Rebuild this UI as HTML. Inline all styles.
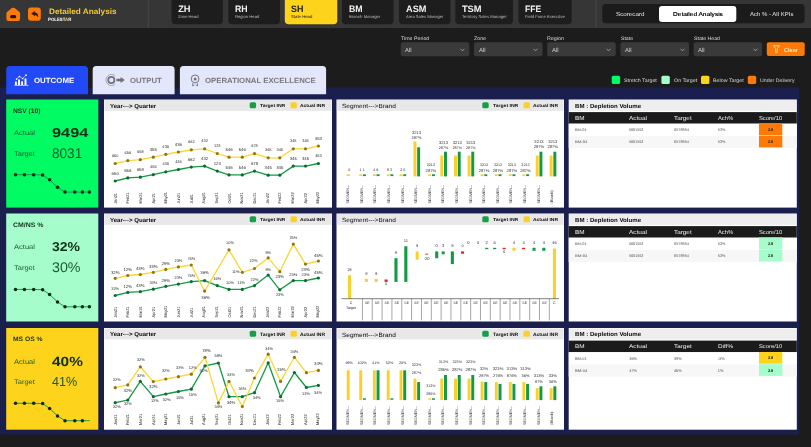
<!DOCTYPE html>
<html lang="en"><head><meta charset="utf-8"><title>Detailed Analysis</title>
<style>
html,body{margin:0;padding:0;background:#1c1c1c;}
body{text-rendering:geometricPrecision;width:811px;height:447px;overflow:hidden;position:relative;font-family:"Liberation Sans",sans-serif;}
#app{position:absolute;left:0;top:0;width:811px;height:447px;overflow:hidden;background:#1c1c1c;}
#app div,#app span,#app svg{position:absolute;}
.t{white-space:nowrap;line-height:1;display:block;transform-origin:0 50%;}
svg{overflow:visible;}
svg text{font-family:"Liberation Sans",sans-serif;}
</style></head><body><div id="app">
<svg style="left:-1px;top:-1px" width="813" height="30" viewBox="-1 -1 813 30"><rect x="0" y="0" width="811" height="28" fill="#363637"/></svg>
<svg style="left:146px;top:-1px" width="5" height="30" viewBox="146 -1 5 30"><rect x="147.6" y="0" width="1.6" height="28" fill="#424243"/></svg>
<svg style="left:594px;top:-1px" width="4" height="30" viewBox="594 -1 4 30"><rect x="595.2" y="0" width="1.6" height="28" fill="#424243"/></svg>
<svg style="left:0px;top:0px" width="50" height="28" viewBox="0 0 50 28">
<path d="M12.8 9.6 L13.7 9.6 L18.2 13.5 L18.2 19 L8.3 19 L8.3 13.5 Z" fill="#fd7a08" stroke="#fd7a08" stroke-width="3.8" stroke-linejoin="round"/>
<rect x="10.1" y="15.1" width="6.1" height="3.1" rx="1.5" fill="#2a1400"/>
<rect x="28" y="7.4" width="12.8" height="13.3" rx="2.9" fill="#fd7a08"/>
<path d="M31.6 13.6 L34.6 11.5 L34.6 12.6 Q38.2 12.9 38 17 Q36.7 14.8 34.6 14.7 L34.6 15.8 Z" fill="#2a1400" stroke="#2a1400" stroke-width="0.4" stroke-linejoin="round"/>
</svg>
<span class="t" style="left:48.9px;top:8px;font-size:7.9px;color:#f2c935;font-weight:700;transform:scaleX(1.038);">Detailed Analysis</span>
<span class="t" style="left:48.3px;top:18px;font-size:4.6px;font-weight:700;color:#fff;transform:scaleX(0.943)">POLEST<span style="position:static;color:#fdd31c">A</span>R</span>
<svg style="left:170px;top:-5px" width="54" height="31" viewBox="170 -5 54 31"><rect x="171.6" y="-4" width="51.3" height="28.2" rx="4" fill="#1d1d1d"/></svg>
<span class="t" style="left:178.2px;top:5px;font-size:9.3px;color:#f2f2f2;font-weight:700;">ZH</span>
<span class="t" style="left:178.2px;top:15px;font-size:4.2px;color:#b9b9b9;transform:scaleX(0.991);">Zone Head</span>
<svg style="left:227px;top:-5px" width="54" height="31" viewBox="227 -5 54 31"><rect x="228.3" y="-4" width="51.7" height="28.2" rx="4" fill="#1d1d1d"/></svg>
<span class="t" style="left:234.9px;top:5px;font-size:9.3px;color:#f2f2f2;font-weight:700;transform:scaleX(0.938);">RH</span>
<span class="t" style="left:234.9px;top:15px;font-size:4.2px;color:#b9b9b9;">Region Head</span>
<svg style="left:283px;top:-5px" width="56" height="31" viewBox="283 -5 56 31"><rect x="284.8" y="-4" width="52.5" height="28.2" rx="4" fill="#fdd31c"/></svg>
<span class="t" style="left:291.4px;top:5px;font-size:9.3px;color:#1a1a1a;font-weight:700;transform:scaleX(0.960);">SH</span>
<span class="t" style="left:291.4px;top:15px;font-size:4.2px;color:#1a1a1a;transform:scaleX(1.018);">State Head</span>
<svg style="left:341px;top:-5px" width="54" height="31" viewBox="341 -5 54 31"><rect x="342" y="-4" width="51.5" height="28.2" rx="4" fill="#1d1d1d"/></svg>
<span class="t" style="left:348.6px;top:5px;font-size:9.3px;color:#f2f2f2;font-weight:700;transform:scaleX(0.940);">BM</span>
<span class="t" style="left:348.6px;top:15px;font-size:4.2px;color:#b9b9b9;transform:scaleX(1.014);">Branch Manager</span>
<svg style="left:398px;top:-5px" width="54" height="31" viewBox="398 -5 54 31"><rect x="399" y="-4" width="51.5" height="28.2" rx="4" fill="#1d1d1d"/></svg>
<span class="t" style="left:405.6px;top:5px;font-size:9.3px;color:#f2f2f2;font-weight:700;transform:scaleX(0.987);">ASM</span>
<span class="t" style="left:405.6px;top:15px;font-size:4.2px;color:#b9b9b9;transform:scaleX(0.979);">Area Sales Manager</span>
<svg style="left:454px;top:-5px" width="60" height="31" viewBox="454 -5 60 31"><rect x="455.3" y="-4" width="57.7" height="28.2" rx="4" fill="#1d1d1d"/></svg>
<span class="t" style="left:461.9px;top:5px;font-size:9.3px;color:#f2f2f2;font-weight:700;">TSM</span>
<span class="t" style="left:461.9px;top:15px;font-size:4.2px;color:#b9b9b9;transform:scaleX(1.009);">Territory Sales Manager</span>
<svg style="left:517px;top:-5px" width="56" height="31" viewBox="517 -5 56 31"><rect x="518.5" y="-4" width="53.2" height="28.2" rx="4" fill="#1d1d1d"/></svg>
<span class="t" style="left:525.1px;top:5px;font-size:9.3px;color:#f2f2f2;font-weight:700;transform:scaleX(0.922);">FFE</span>
<span class="t" style="left:525.1px;top:15px;font-size:4.2px;color:#b9b9b9;transform:scaleX(0.991);">Field Force Executive</span>
<svg style="left:601px;top:3px" width="205" height="22" viewBox="601 3 205 22"><rect x="602.3" y="4" width="202.2" height="19.3" rx="3.5" fill="#1b1b1b"/></svg>
<svg style="left:658px;top:5px" width="80" height="18" viewBox="658 5 80 18"><rect x="659" y="6" width="77.3" height="16" rx="3" fill="#ffffff"/></svg>
<span class="t" style="left:616.35px;top:13px;font-size:5.7px;color:#e6e6e6;transform:scaleX(1.097);">Scorecard</span>
<span class="t" style="left:672.7px;top:13px;font-size:5.7px;color:#1a1a1a;transform:scaleX(1.152);text-shadow:0 0 0.4px #1a1a1a;">Detailed Analysis</span>
<span class="t" style="left:750.05px;top:13px;font-size:5.7px;color:#e6e6e6;transform:scaleX(1.056);">Ach % - All KPIs</span>
<span class="t" style="left:400.8px;top:37px;font-size:5px;color:#d9d9d9;transform:scaleX(1.057);">Time Period</span>
<svg style="left:399px;top:41px" width="72" height="17" viewBox="399 41 72 17"><rect x="400.8" y="42.3" width="68.5" height="14" rx="2" fill="#3a3a3a"/></svg>
<span class="t" style="left:405.4px;top:48px;font-size:6px;color:#d4d4d4;transform:scaleX(0.990);">All</span>
<svg style="left:460px;top:47.6px" width="5" height="4" viewBox="0 0 5 4"><path d="M0.6 0.8 L2.5 2.8 L4.4 0.8" fill="none" stroke="#bdbdbd" stroke-width="0.7"/></svg>
<span class="t" style="left:474px;top:37px;font-size:5px;color:#d9d9d9;transform:scaleX(1.053);">Zone</span>
<svg style="left:473px;top:41px" width="71" height="17" viewBox="473 41 71 17"><rect x="474" y="42.3" width="68.5" height="14" rx="2" fill="#3a3a3a"/></svg>
<span class="t" style="left:478.6px;top:48px;font-size:6px;color:#d4d4d4;transform:scaleX(0.990);">All</span>
<svg style="left:533.2px;top:47.6px" width="5" height="4" viewBox="0 0 5 4"><path d="M0.6 0.8 L2.5 2.8 L4.4 0.8" fill="none" stroke="#bdbdbd" stroke-width="0.7"/></svg>
<span class="t" style="left:547.2px;top:37px;font-size:5px;color:#d9d9d9;transform:scaleX(1.073);">Region</span>
<svg style="left:546px;top:41px" width="71" height="17" viewBox="546 41 71 17"><rect x="547.2" y="42.3" width="68.5" height="14" rx="2" fill="#3a3a3a"/></svg>
<span class="t" style="left:551.8px;top:48px;font-size:6px;color:#d4d4d4;transform:scaleX(0.990);">All</span>
<svg style="left:606.4px;top:47.6px" width="5" height="4" viewBox="0 0 5 4"><path d="M0.6 0.8 L2.5 2.8 L4.4 0.8" fill="none" stroke="#bdbdbd" stroke-width="0.7"/></svg>
<span class="t" style="left:620.5px;top:37px;font-size:5px;color:#d9d9d9;transform:scaleX(1.028);">State</span>
<svg style="left:619px;top:41px" width="71" height="17" viewBox="619 41 71 17"><rect x="620.5" y="42.3" width="68.5" height="14" rx="2" fill="#3a3a3a"/></svg>
<span class="t" style="left:625.1px;top:48px;font-size:6px;color:#d4d4d4;transform:scaleX(0.990);">All</span>
<svg style="left:679.7px;top:47.6px" width="5" height="4" viewBox="0 0 5 4"><path d="M0.6 0.8 L2.5 2.8 L4.4 0.8" fill="none" stroke="#bdbdbd" stroke-width="0.7"/></svg>
<span class="t" style="left:693.6px;top:37px;font-size:5px;color:#d9d9d9;transform:scaleX(1.039);">State Head</span>
<svg style="left:692px;top:41px" width="72" height="17" viewBox="692 41 72 17"><rect x="693.6" y="42.3" width="68.5" height="14" rx="2" fill="#3a3a3a"/></svg>
<span class="t" style="left:698.2px;top:48px;font-size:6px;color:#d4d4d4;transform:scaleX(0.990);">All</span>
<svg style="left:752.8px;top:47.6px" width="5" height="4" viewBox="0 0 5 4"><path d="M0.6 0.8 L2.5 2.8 L4.4 0.8" fill="none" stroke="#bdbdbd" stroke-width="0.7"/></svg>
<svg style="left:765px;top:41px" width="41" height="16" viewBox="765 41 41 16"><rect x="766.8" y="42.3" width="37.9" height="13.7" rx="2" fill="#fd7a08"/></svg>
<svg style="left:0;top:0" width="811" height="60" viewBox="0 0 811 60"><path d="M773.5 45.8 H779.6 L777.3 48.7 V52.3 L775.8 52.9 V48.7 Z" fill="none" stroke="#ffe2a6" stroke-width="0.85" stroke-linejoin="round"/></svg>
<span class="t" style="left:783.8px;top:49px;font-size:5.8px;color:#ffe9c4;font-weight:700;transform:scaleX(0.965);">Clear</span>
<svg style="left:-2px;top:86px" width="803" height="350" viewBox="-2 86 803 350"><path d="M-0.6 87.6 H799.1 V431.9 A2.5 2.5 0 0 1 796.6 434.4 H2.4 A3 3 0 0 1 -0.6 431.4 V87.6 Z" fill="#1b1f4d"/></svg>
<svg style="left:5px;top:64px" width="84" height="32" viewBox="5 64 84 32"><path d="M9.7 65.9 H84.5 A3.5 3.5 0 0 1 88 69.4 V94.2 H6.2 V69.4 A3.5 3.5 0 0 1 9.7 65.9 Z" fill="#2149f5"/></svg>
<svg style="left:91px;top:64px" width="85" height="32" viewBox="91 64 85 32"><path d="M96.2 65.9 H171.1 A3.5 3.5 0 0 1 174.6 69.4 V94.2 H92.7 V69.4 A3.5 3.5 0 0 1 96.2 65.9 Z" fill="#e3e7fb"/></svg>
<svg style="left:178px;top:64px" width="150" height="32" viewBox="178 64 150 32"><path d="M183.4 65.9 H322.6 A3.5 3.5 0 0 1 326.1 69.4 V94.2 H179.9 V69.4 A3.5 3.5 0 0 1 183.4 65.9 Z" fill="#e3e7fb"/></svg>
<svg style="left:0;top:0" width="40" height="95" viewBox="0 0 40 95"><path d="M14.4 85.4 H28.5" stroke="#fff" stroke-width="0.7"/><path d="M15.9 85 V81.6 M19 85 V79.6 M22.1 85 V81.2 M25.5 85 V78.4" stroke="#fff" stroke-width="1.9"/><path d="M16.6 79.1 L19.4 76.5 L22.7 78.5 L26 75.2" fill="none" stroke="#fff" stroke-width="0.55"/><circle cx="16.6" cy="79.1" r="0.85" fill="#fff"/><circle cx="19.4" cy="76.5" r="0.85" fill="#fff"/><circle cx="22.7" cy="78.5" r="0.85" fill="#fff"/><circle cx="26" cy="75.2" r="0.85" fill="#fff"/></svg>
<span class="t" style="left:33.8px;top:77px;font-size:7.6px;color:#ffffff;font-weight:700;transform:scaleX(1.035);">OUTCOME</span>
<svg style="left:0;top:0" width="130" height="95" viewBox="0 0 130 95"><path d="M115.6 76.2 A5.6 5.6 0 1 0 115.6 83.8" fill="none" stroke="#7d7e86" stroke-width="0.6"/><circle cx="111.3" cy="80" r="3.1" fill="none" stroke="#6e6f77" stroke-width="1.7"/><path d="M116.4 78.7 H120.6 V77 L124.8 80 L120.6 83 V81.3 H116.4 Z" fill="#6e6f77"/></svg>
<span class="t" style="left:130px;top:77px;font-size:7.6px;color:#76777e;font-weight:700;transform:scaleX(1.018);">OUTPUT</span>
<svg style="left:0;top:0" width="210" height="95" viewBox="0 0 210 95"><circle cx="195.1" cy="78.9" r="3.9" fill="none" stroke="#74757d" stroke-width="1"/><circle cx="195.1" cy="78.9" r="1.5" fill="#74757d"/><path d="M192.9 83.2 L192.5 85.8 L194.4 85 M197.3 83.2 L197.7 85.8 L195.8 85" fill="none" stroke="#74757d" stroke-width="0.9"/></svg>
<span class="t" style="left:204.8px;top:77px;font-size:7.6px;color:#76777e;font-weight:700;transform:scaleX(1.027);">OPERATIONAL EXCELLENCE</span>
<svg style="left:610px;top:74px" width="12" height="12" viewBox="610 74 12 12"><rect x="611.7" y="75.7" width="8.4" height="8.4" rx="1.6" fill="#00fb62"/></svg>
<span class="t" style="left:623.9px;top:79px;font-size:5px;color:#d8d8d8;transform:scaleX(1.057);">Stretch Target</span>
<svg style="left:660px;top:74px" width="11" height="12" viewBox="660 74 11 12"><rect x="661.4" y="75.7" width="8.4" height="8.4" rx="1.6" fill="#a4fdcb"/></svg>
<span class="t" style="left:673.6px;top:79px;font-size:5px;color:#d8d8d8;transform:scaleX(1.061);">On Target</span>
<svg style="left:700px;top:74px" width="11" height="12" viewBox="700 74 11 12"><rect x="701" y="75.7" width="8.4" height="8.4" rx="1.6" fill="#fdd31c"/></svg>
<span class="t" style="left:712.9px;top:79px;font-size:5px;color:#d8d8d8;transform:scaleX(1.065);">Below Target</span>
<svg style="left:746px;top:74px" width="12" height="12" viewBox="746 74 12 12"><rect x="747.8" y="75.7" width="8.4" height="8.4" rx="1.6" fill="#fd7a08"/></svg>
<span class="t" style="left:760px;top:79px;font-size:5px;color:#d8d8d8;transform:scaleX(1.046);">Under Delivery</span>
<svg style="left:5px;top:98px" width="95" height="111" viewBox="5 98 95 111"><rect x="6.2" y="99.5" width="92.1" height="108.1" fill="#00fb62"/></svg>
<span class="t" style="left:13.2px;top:109px;font-size:6.4px;color:#14301c;font-weight:700;transform:scaleX(1.041);">NSV (10)</span>
<span class="t" style="left:14.3px;top:131px;font-size:6.6px;color:#1f5a33;transform:scaleX(1.145);">Actual</span>
<span class="t" style="left:51.8px;top:127px;font-size:12.9px;color:#0f3018;font-weight:700;transform:scaleX(1.268);">9494</span>
<span class="t" style="left:14.3px;top:152px;font-size:6.8px;color:#1f5a33;transform:scaleX(1.101);">Target</span>
<span class="t" style="left:51.8px;top:146px;font-size:14.1px;color:#1c5a2e;transform:scaleX(0.963);">8031</span>
<svg style="left:5.9px;top:99.5px" width="92.5" height="108.1" viewBox="5.9 99.5 92.5 108.1">
<polyline points="15.4,174.2 24.3,174.2 33.6,174.2 42.5,174.5 49.5,179.3 57.4,186.8 64.9,191.6 74.7,191.6 82.3,191.6 89.3,191.6" fill="none" stroke="#149a44" stroke-width="0.95" stroke-linejoin="round" stroke-linecap="round"/>
<circle cx="15.4" cy="174.2" r="1.75" fill="#0c2a12"/>
<circle cx="24.3" cy="174.2" r="1.75" fill="#0c2a12"/>
<circle cx="33.6" cy="174.2" r="1.75" fill="#0c2a12"/>
<circle cx="42.5" cy="174.5" r="1.75" fill="#0c2a12"/>
<circle cx="49.5" cy="179.3" r="1.75" fill="#0c2a12"/>
<circle cx="57.4" cy="186.8" r="1.75" fill="#0c2a12"/>
<circle cx="64.9" cy="191.6" r="1.75" fill="#0c2a12"/>
<circle cx="74.7" cy="191.6" r="1.75" fill="#0c2a12"/>
<circle cx="82.3" cy="191.6" r="1.75" fill="#0c2a12"/>
<circle cx="89.3" cy="191.6" r="1.75" fill="#0c2a12"/>
</svg>
<svg style="left:103px;top:98px" width="230" height="111" viewBox="103 98 230 111"><rect x="104" y="99.5" width="228" height="108.1" fill="#ffffff"/></svg>
<svg style="left:103px;top:99px" width="230" height="13" viewBox="103 99 230 13"><rect x="104.4" y="100" width="227.2" height="10.9" fill="#e8e8e8"/></svg>
<span class="t" style="left:109.5px;top:105px;font-size:5.9px;color:#0a0a0a;font-weight:700;transform:scaleX(1.034);">Year---&gt; Quarter</span>
<svg style="left:248px;top:101px" width="10" height="9" viewBox="248 101 10 9"><rect x="249.7" y="102.2" width="6.4" height="6.1" rx="1.6" fill="#15a048"/></svg>
<span class="t" style="left:259.6px;top:104px;font-size:4.5px;color:#0a0a0a;font-weight:700;transform:scaleX(1.128);">Target INR</span>
<svg style="left:289px;top:101px" width="9" height="9" viewBox="289 101 9 9"><rect x="290.5" y="102.2" width="6.4" height="6.1" rx="1.6" fill="#fbd02b"/></svg>
<span class="t" style="left:300.2px;top:104px;font-size:4.5px;color:#0a0a0a;font-weight:700;transform:scaleX(1.099);">Actual INR</span>
<svg style="left:104px;top:99.5px" width="228" height="108.1" viewBox="104 99.5 228 108.1">
<polyline points="115.2,180.5 127.8,177.4 140.3,176.7 153.3,174.2 165.8,171.3 178.4,169 191.3,166.6 204.6,165.6 217.3,170.6 229,174.4 242.3,174.4 254.5,170.6 268.2,174.7 279.8,174.7 293.3,165.6 305.5,165.6 318.4,163" fill="none" stroke="#149944" stroke-width="1.3" stroke-linejoin="round" stroke-linecap="round"/>
<polyline points="115.2,163 127.8,160.1 140.3,159.2 153.3,156.7 165.8,153.8 178.4,151.5 191.3,149.3 204.6,148.3 217.3,153 229,156.7 242.3,156.7 254.5,153.1 268.2,157.3 279.8,157.3 293.3,148.3 305.5,148.3 318.4,145.5" fill="none" stroke="#fcd531" stroke-width="1.3" stroke-linejoin="round" stroke-linecap="round"/>
<circle cx="115.2" cy="180.5" r="1.6" fill="#0b6b33"/>
<circle cx="115.2" cy="163" r="1.6" fill="#8f7410"/>
<circle cx="127.8" cy="177.4" r="1.6" fill="#0b6b33"/>
<circle cx="127.8" cy="160.1" r="1.6" fill="#8f7410"/>
<circle cx="140.3" cy="176.7" r="1.6" fill="#0b6b33"/>
<circle cx="140.3" cy="159.2" r="1.6" fill="#8f7410"/>
<circle cx="153.3" cy="174.2" r="1.6" fill="#0b6b33"/>
<circle cx="153.3" cy="156.7" r="1.6" fill="#8f7410"/>
<circle cx="165.8" cy="171.3" r="1.6" fill="#0b6b33"/>
<circle cx="165.8" cy="153.8" r="1.6" fill="#8f7410"/>
<circle cx="178.4" cy="169" r="1.6" fill="#0b6b33"/>
<circle cx="178.4" cy="151.5" r="1.6" fill="#8f7410"/>
<circle cx="191.3" cy="166.6" r="1.6" fill="#0b6b33"/>
<circle cx="191.3" cy="149.3" r="1.6" fill="#8f7410"/>
<circle cx="204.6" cy="165.6" r="1.6" fill="#0b6b33"/>
<circle cx="204.6" cy="148.3" r="1.6" fill="#8f7410"/>
<circle cx="217.3" cy="170.6" r="1.6" fill="#0b6b33"/>
<circle cx="217.3" cy="153" r="1.6" fill="#8f7410"/>
<circle cx="229" cy="174.4" r="1.6" fill="#0b6b33"/>
<circle cx="229" cy="156.7" r="1.6" fill="#8f7410"/>
<circle cx="242.3" cy="174.4" r="1.6" fill="#0b6b33"/>
<circle cx="242.3" cy="156.7" r="1.6" fill="#8f7410"/>
<circle cx="254.5" cy="170.6" r="1.6" fill="#0b6b33"/>
<circle cx="254.5" cy="153.1" r="1.6" fill="#8f7410"/>
<circle cx="268.2" cy="174.7" r="1.6" fill="#0b6b33"/>
<circle cx="268.2" cy="157.3" r="1.6" fill="#8f7410"/>
<circle cx="279.8" cy="174.7" r="1.6" fill="#0b6b33"/>
<circle cx="279.8" cy="157.3" r="1.6" fill="#8f7410"/>
<circle cx="293.3" cy="165.6" r="1.6" fill="#0b6b33"/>
<circle cx="293.3" cy="148.3" r="1.6" fill="#8f7410"/>
<circle cx="305.5" cy="165.6" r="1.6" fill="#0b6b33"/>
<circle cx="305.5" cy="148.3" r="1.6" fill="#8f7410"/>
<circle cx="318.4" cy="163" r="1.6" fill="#0b6b33"/>
<circle cx="318.4" cy="145.5" r="1.6" fill="#8f7410"/>
<g>
<text x="115.2" y="157" font-size="3.9" fill="#2e2e2e" text-anchor="middle">650</text>
<text x="115.2" y="175" font-size="4.3" fill="#2e2e2e" text-anchor="middle">650</text>
<text transform="translate(115.2 203.1) rotate(-90)" x="0" y="1.5" font-size="4.2" fill="#262626" text-anchor="start" textLength="10.6" lengthAdjust="spacingAndGlyphs">Jan21</text>
<text x="127.8" y="154" font-size="3.9" fill="#2e2e2e" text-anchor="middle">656</text>
<text x="127.8" y="172" font-size="4.3" fill="#2e2e2e" text-anchor="middle">656</text>
<text transform="translate(127.86 203.1) rotate(-90)" x="0" y="1.5" font-size="4.2" fill="#262626" text-anchor="start" textLength="10.9" lengthAdjust="spacingAndGlyphs">Feb21</text>
<text x="140.3" y="153" font-size="3.9" fill="#2e2e2e" text-anchor="middle">658</text>
<text x="140.3" y="171" font-size="4.3" fill="#2e2e2e" text-anchor="middle">658</text>
<text transform="translate(140.52 203.1) rotate(-90)" x="0" y="1.5" font-size="4.2" fill="#262626" text-anchor="start" textLength="11.2" lengthAdjust="spacingAndGlyphs">Mar21</text>
<text x="153.3" y="151" font-size="4.3" fill="#2e2e2e" text-anchor="middle">455</text>
<text x="153.3" y="168" font-size="3.9" fill="#2e2e2e" text-anchor="middle">455</text>
<text transform="translate(153.18 203.1) rotate(-90)" x="0" y="1.5" font-size="4.2" fill="#262626" text-anchor="start" textLength="10.6" lengthAdjust="spacingAndGlyphs">Apr21</text>
<text x="165.8" y="148" font-size="4.2" fill="#2e2e2e" text-anchor="middle">435</text>
<text x="165.8" y="165" font-size="3.9" fill="#2e2e2e" text-anchor="middle">435</text>
<text transform="translate(165.84 203.1) rotate(-90)" x="0" y="1.5" font-size="4.2" fill="#262626" text-anchor="start" textLength="11.6" lengthAdjust="spacingAndGlyphs">May21</text>
<text x="178.4" y="146" font-size="4.3" fill="#2e2e2e" text-anchor="middle">436</text>
<text x="178.4" y="163" font-size="3.9" fill="#2e2e2e" text-anchor="middle">436</text>
<text transform="translate(178.5 203.1) rotate(-90)" x="0" y="1.5" font-size="4.2" fill="#262626" text-anchor="start" textLength="10.8" lengthAdjust="spacingAndGlyphs">Jun21</text>
<text x="191.3" y="143" font-size="3.9" fill="#2e2e2e" text-anchor="middle">662</text>
<text x="191.3" y="161" font-size="4.3" fill="#2e2e2e" text-anchor="middle">662</text>
<text transform="translate(191.16 203.1) rotate(-90)" x="0" y="1.5" font-size="4.2" fill="#262626" text-anchor="start" textLength="9.6" lengthAdjust="spacingAndGlyphs">Jul21</text>
<text x="204.6" y="142" font-size="3.9" fill="#2e2e2e" text-anchor="middle">432</text>
<text x="204.6" y="160" font-size="4.3" fill="#2e2e2e" text-anchor="middle">432</text>
<text transform="translate(203.82 203.1) rotate(-90)" x="0" y="1.5" font-size="4.2" fill="#262626" text-anchor="start" textLength="11.4" lengthAdjust="spacingAndGlyphs">Aug21</text>
<text x="217.3" y="147" font-size="3.9" fill="#2e2e2e" text-anchor="middle">123</text>
<text x="217.3" y="165" font-size="4.3" fill="#2e2e2e" text-anchor="middle">123</text>
<text transform="translate(216.48 203.1) rotate(-90)" x="0" y="1.5" font-size="4.2" fill="#262626" text-anchor="start" textLength="11.2" lengthAdjust="spacingAndGlyphs">Sep21</text>
<text x="229" y="151" font-size="4.3" fill="#2e2e2e" text-anchor="middle">546</text>
<text x="229" y="169" font-size="4.3" fill="#2e2e2e" text-anchor="middle">546</text>
<text transform="translate(229.14 203.1) rotate(-90)" x="0" y="1.5" font-size="4.2" fill="#262626" text-anchor="start" textLength="10.6" lengthAdjust="spacingAndGlyphs">Oct21</text>
<text x="242.3" y="151" font-size="4.3" fill="#2e2e2e" text-anchor="middle">546</text>
<text x="242.3" y="169" font-size="4.3" fill="#2e2e2e" text-anchor="middle">546</text>
<text transform="translate(241.8 203.1) rotate(-90)" x="0" y="1.5" font-size="4.2" fill="#262626" text-anchor="start" textLength="11.2" lengthAdjust="spacingAndGlyphs">Nov21</text>
<text x="254.5" y="147" font-size="3.9" fill="#2e2e2e" text-anchor="middle">678</text>
<text x="254.5" y="165" font-size="4.3" fill="#2e2e2e" text-anchor="middle">678</text>
<text transform="translate(254.46 203.1) rotate(-90)" x="0" y="1.5" font-size="4.2" fill="#262626" text-anchor="start" textLength="11" lengthAdjust="spacingAndGlyphs">Dec21</text>
<text x="268.2" y="151" font-size="3.9" fill="#2e2e2e" text-anchor="middle">345</text>
<text x="268.2" y="169" font-size="4.3" fill="#2e2e2e" text-anchor="middle">345</text>
<text transform="translate(267.12 203.1) rotate(-90)" x="0" y="1.5" font-size="4.2" fill="#262626" text-anchor="start" textLength="10.6" lengthAdjust="spacingAndGlyphs">Jan22</text>
<text x="279.8" y="151" font-size="3.9" fill="#2e2e2e" text-anchor="middle">345</text>
<text x="279.8" y="169" font-size="4.3" fill="#2e2e2e" text-anchor="middle">345</text>
<text transform="translate(279.78 203.1) rotate(-90)" x="0" y="1.5" font-size="4.2" fill="#262626" text-anchor="start" textLength="10.9" lengthAdjust="spacingAndGlyphs">Feb22</text>
<text x="293.3" y="142" font-size="3.9" fill="#2e2e2e" text-anchor="middle">345</text>
<text x="293.3" y="160" font-size="4.3" fill="#2e2e2e" text-anchor="middle">345</text>
<text transform="translate(292.44 203.1) rotate(-90)" x="0" y="1.5" font-size="4.2" fill="#262626" text-anchor="start" textLength="11.2" lengthAdjust="spacingAndGlyphs">Mar22</text>
<text x="305.5" y="142" font-size="3.9" fill="#2e2e2e" text-anchor="middle">345</text>
<text x="305.5" y="160" font-size="4.3" fill="#2e2e2e" text-anchor="middle">345</text>
<text transform="translate(305.1 203.1) rotate(-90)" x="0" y="1.5" font-size="4.2" fill="#262626" text-anchor="start" textLength="10.6" lengthAdjust="spacingAndGlyphs">Apr22</text>
<text x="318.4" y="140" font-size="4.3" fill="#2e2e2e" text-anchor="middle">453</text>
<text x="318.4" y="157" font-size="3.9" fill="#2e2e2e" text-anchor="middle">453</text>
<text transform="translate(317.76 203.1) rotate(-90)" x="0" y="1.5" font-size="4.2" fill="#262626" text-anchor="start" textLength="11.6" lengthAdjust="spacingAndGlyphs">May22</text>
</g>
</svg>
<svg style="left:335px;top:98px" width="230" height="111" viewBox="335 98 230 111"><rect x="336.5" y="99.5" width="227.5" height="108.1" fill="#ffffff"/></svg>
<svg style="left:335px;top:99px" width="230" height="13" viewBox="335 99 230 13"><rect x="336.9" y="100" width="226.7" height="10.9" fill="#e8e8e8"/></svg>
<span class="t" style="left:342px;top:104px;font-size:6px;color:#0a0a0a;transform:scaleX(1.088);">Segment---&gt;Brand</span>
<svg style="left:481px;top:101px" width="9" height="9" viewBox="481 101 9 9"><rect x="482.3" y="102.2" width="6.4" height="6.1" rx="1.6" fill="#15a048"/></svg>
<span class="t" style="left:492.7px;top:104px;font-size:4.5px;color:#0a0a0a;font-weight:700;transform:scaleX(1.128);">Target INR</span>
<svg style="left:522px;top:101px" width="9" height="9" viewBox="522 101 9 9"><rect x="523.5" y="102.2" width="6.4" height="6.1" rx="1.6" fill="#fbd02b"/></svg>
<span class="t" style="left:532.5px;top:104px;font-size:4.5px;color:#0a0a0a;font-weight:700;transform:scaleX(1.099);">Actual INR</span>
<svg style="left:567px;top:98px" width="231" height="111" viewBox="567 98 231 111"><rect x="568.7" y="99.5" width="228.1" height="108.1" fill="#ffffff"/></svg>
<svg style="left:568px;top:99px" width="230" height="13" viewBox="568 99 230 13"><rect x="569.1" y="100" width="227.3" height="10.9" fill="#eeeeee"/></svg>
<span class="t" style="left:574.9px;top:105px;font-size:5.9px;color:#0a0a0a;font-weight:700;transform:scaleX(1.037);">BM : Depletion Volume</span>
<svg style="left:5px;top:212px" width="95" height="111" viewBox="5 212 95 111"><rect x="6.2" y="213.5" width="92.1" height="108" fill="#a4fdcb"/></svg>
<span class="t" style="left:13.2px;top:223px;font-size:6.4px;color:#14301c;font-weight:700;transform:scaleX(1.086);">CM/NS %</span>
<span class="t" style="left:14.3px;top:245px;font-size:6.6px;color:#1f5a33;transform:scaleX(1.145);">Actual</span>
<span class="t" style="left:51.8px;top:241px;font-size:12.9px;color:#0f3018;font-weight:700;transform:scaleX(1.088);">32%</span>
<span class="t" style="left:14.3px;top:266px;font-size:6.8px;color:#1f5a33;transform:scaleX(1.101);">Target</span>
<span class="t" style="left:51.8px;top:260px;font-size:14.1px;color:#1c5a2e;transform:scaleX(1.010);">30%</span>
<svg style="left:5.9px;top:213.5px" width="92.5" height="108" viewBox="5.9 213.5 92.5 108">
<polyline points="15.4,288.9 24.3,288.9 33.6,288.9 42.5,289.2 49.5,294 57.4,301.5 64.9,306.3 74.7,306.3 82.3,306.3 89.3,306.3" fill="none" stroke="#149a44" stroke-width="0.95" stroke-linejoin="round" stroke-linecap="round"/>
<circle cx="15.4" cy="288.9" r="1.75" fill="#0c2a12"/>
<circle cx="24.3" cy="288.9" r="1.75" fill="#0c2a12"/>
<circle cx="33.6" cy="288.9" r="1.75" fill="#0c2a12"/>
<circle cx="42.5" cy="289.2" r="1.75" fill="#0c2a12"/>
<circle cx="49.5" cy="294" r="1.75" fill="#0c2a12"/>
<circle cx="57.4" cy="301.5" r="1.75" fill="#0c2a12"/>
<circle cx="64.9" cy="306.3" r="1.75" fill="#0c2a12"/>
<circle cx="74.7" cy="306.3" r="1.75" fill="#0c2a12"/>
<circle cx="82.3" cy="306.3" r="1.75" fill="#0c2a12"/>
<circle cx="89.3" cy="306.3" r="1.75" fill="#0c2a12"/>
</svg>
<svg style="left:103px;top:212px" width="230" height="111" viewBox="103 212 230 111"><rect x="104" y="213.5" width="228" height="108" fill="#ffffff"/></svg>
<svg style="left:103px;top:213px" width="230" height="13" viewBox="103 213 230 13"><rect x="104.4" y="214" width="227.2" height="10.9" fill="#e8e8e8"/></svg>
<span class="t" style="left:109.5px;top:219px;font-size:5.9px;color:#0a0a0a;font-weight:700;transform:scaleX(1.034);">Year---&gt; Quarter</span>
<svg style="left:248px;top:215px" width="10" height="9" viewBox="248 215 10 9"><rect x="249.7" y="216.2" width="6.4" height="6.1" rx="1.6" fill="#15a048"/></svg>
<span class="t" style="left:259.6px;top:218px;font-size:4.5px;color:#0a0a0a;font-weight:700;transform:scaleX(1.128);">Target INR</span>
<svg style="left:289px;top:215px" width="9" height="9" viewBox="289 215 9 9"><rect x="290.5" y="216.2" width="6.4" height="6.1" rx="1.6" fill="#fbd02b"/></svg>
<span class="t" style="left:300.2px;top:218px;font-size:4.5px;color:#0a0a0a;font-weight:700;transform:scaleX(1.099);">Actual INR</span>
<svg style="left:104px;top:213.5px" width="228" height="108" viewBox="104 213.5 228 108">
<polyline points="115.2,295 127.8,291.9 140.3,291.2 153.3,288.7 165.8,285.8 178.4,283.6 191.3,281.1 204.6,280.1 217.3,285.1 229,288.9 242.3,288.9 254.5,285.1 268.2,274.6 279.8,289.3 293.3,280.1 305.5,280.1 318.4,277.5" fill="none" stroke="#149944" stroke-width="1.3" stroke-linejoin="round" stroke-linecap="round"/>
<polyline points="115.2,277.8 127.8,275 140.3,274 153.3,271.8 165.8,268.9 178.4,266.4 191.3,264.5 204.6,290.6 229,249.3 242.3,271.8 254.5,268 268.2,257.3 279.8,271.2 293.3,243.6 305.5,263.6 318.4,260.5" fill="none" stroke="#fcd531" stroke-width="1.3" stroke-linejoin="round" stroke-linecap="round"/>
<circle cx="115.2" cy="295" r="1.6" fill="#0b6b33"/>
<circle cx="115.2" cy="277.8" r="1.6" fill="#8f7410"/>
<circle cx="127.8" cy="291.9" r="1.6" fill="#0b6b33"/>
<circle cx="127.8" cy="275" r="1.6" fill="#8f7410"/>
<circle cx="140.3" cy="291.2" r="1.6" fill="#0b6b33"/>
<circle cx="140.3" cy="274" r="1.6" fill="#8f7410"/>
<circle cx="153.3" cy="288.7" r="1.6" fill="#0b6b33"/>
<circle cx="153.3" cy="271.8" r="1.6" fill="#8f7410"/>
<circle cx="165.8" cy="285.8" r="1.6" fill="#0b6b33"/>
<circle cx="165.8" cy="268.9" r="1.6" fill="#8f7410"/>
<circle cx="178.4" cy="283.6" r="1.6" fill="#0b6b33"/>
<circle cx="178.4" cy="266.4" r="1.6" fill="#8f7410"/>
<circle cx="191.3" cy="281.1" r="1.6" fill="#0b6b33"/>
<circle cx="191.3" cy="264.5" r="1.6" fill="#8f7410"/>
<circle cx="204.6" cy="280.1" r="1.6" fill="#0b6b33"/>
<circle cx="204.6" cy="290.6" r="1.6" fill="#8f7410"/>
<circle cx="217.3" cy="285.1" r="1.6" fill="#0b6b33"/>
<circle cx="229" cy="288.9" r="1.6" fill="#0b6b33"/>
<circle cx="229" cy="249.3" r="1.6" fill="#8f7410"/>
<circle cx="242.3" cy="288.9" r="1.6" fill="#0b6b33"/>
<circle cx="242.3" cy="271.8" r="1.6" fill="#8f7410"/>
<circle cx="254.5" cy="285.1" r="1.6" fill="#0b6b33"/>
<circle cx="254.5" cy="268" r="1.6" fill="#8f7410"/>
<circle cx="268.2" cy="274.6" r="1.6" fill="#0b6b33"/>
<circle cx="268.2" cy="257.3" r="1.6" fill="#8f7410"/>
<circle cx="279.8" cy="289.3" r="1.6" fill="#0b6b33"/>
<circle cx="279.8" cy="271.2" r="1.6" fill="#8f7410"/>
<circle cx="293.3" cy="280.1" r="1.6" fill="#0b6b33"/>
<circle cx="293.3" cy="243.6" r="1.6" fill="#8f7410"/>
<circle cx="305.5" cy="280.1" r="1.6" fill="#0b6b33"/>
<circle cx="305.5" cy="263.6" r="1.6" fill="#8f7410"/>
<circle cx="318.4" cy="277.5" r="1.6" fill="#0b6b33"/>
<circle cx="318.4" cy="260.5" r="1.6" fill="#8f7410"/>
<g>
<text x="115.2" y="273" font-size="4.3" fill="#2e2e2e" text-anchor="middle">32%</text>
<text x="115.2" y="289" font-size="3.9" fill="#2e2e2e" text-anchor="middle">32%</text>
<text transform="translate(115.2 316.9) rotate(-90)" x="0" y="1.5" font-size="4.2" fill="#262626" text-anchor="start" textLength="10.6" lengthAdjust="spacingAndGlyphs">Jan21</text>
<text x="127.8" y="270" font-size="4.3" fill="#2e2e2e" text-anchor="middle">12%</text>
<text x="127.8" y="287" font-size="4.3" fill="#2e2e2e" text-anchor="middle">12%</text>
<text transform="translate(127.86 316.9) rotate(-90)" x="0" y="1.5" font-size="4.2" fill="#262626" text-anchor="start" textLength="10.9" lengthAdjust="spacingAndGlyphs">Feb21</text>
<text x="140.3" y="269" font-size="4.3" fill="#2e2e2e" text-anchor="middle">43%</text>
<text x="140.3" y="286" font-size="4.3" fill="#2e2e2e" text-anchor="middle">43%</text>
<text transform="translate(140.52 316.9) rotate(-90)" x="0" y="1.5" font-size="4.2" fill="#262626" text-anchor="start" textLength="11.2" lengthAdjust="spacingAndGlyphs">Mar21</text>
<text x="153.3" y="267" font-size="4.3" fill="#2e2e2e" text-anchor="middle">33%</text>
<text x="153.3" y="283" font-size="3.9" fill="#2e2e2e" text-anchor="middle">33%</text>
<text transform="translate(153.18 316.9) rotate(-90)" x="0" y="1.5" font-size="4.2" fill="#262626" text-anchor="start" textLength="10.6" lengthAdjust="spacingAndGlyphs">Apr21</text>
<text x="165.8" y="264" font-size="4.3" fill="#2e2e2e" text-anchor="middle">29%</text>
<text x="165.8" y="281" font-size="4.3" fill="#2e2e2e" text-anchor="middle">29%</text>
<text transform="translate(165.84 316.9) rotate(-90)" x="0" y="1.5" font-size="4.2" fill="#262626" text-anchor="start" textLength="11.6" lengthAdjust="spacingAndGlyphs">May21</text>
<text x="178.4" y="261" font-size="3.9" fill="#2e2e2e" text-anchor="middle">23%</text>
<text x="178.4" y="278" font-size="3.9" fill="#2e2e2e" text-anchor="middle">23%</text>
<text transform="translate(178.5 316.9) rotate(-90)" x="0" y="1.5" font-size="4.2" fill="#262626" text-anchor="start" textLength="10.8" lengthAdjust="spacingAndGlyphs">Jun21</text>
<text x="191.3" y="259" font-size="3.9" fill="#2e2e2e" text-anchor="middle">76%</text>
<text x="191.3" y="276" font-size="3.9" fill="#2e2e2e" text-anchor="middle">76%</text>
<text transform="translate(191.16 316.9) rotate(-90)" x="0" y="1.5" font-size="4.2" fill="#262626" text-anchor="start" textLength="9.6" lengthAdjust="spacingAndGlyphs">Jul21</text>
<text x="205.6" y="298" font-size="4.3" fill="#2e2e2e" text-anchor="middle">36%</text>
<text x="204.6" y="273" font-size="4.3" fill="#2e2e2e" text-anchor="middle">36%</text>
<text transform="translate(203.82 316.9) rotate(-90)" x="0" y="1.5" font-size="4.2" fill="#262626" text-anchor="start" textLength="11.4" lengthAdjust="spacingAndGlyphs">Aug21</text>
<text x="217.3" y="279" font-size="3.9" fill="#2e2e2e" text-anchor="middle">16%</text>
<text transform="translate(216.48 316.9) rotate(-90)" x="0" y="1.5" font-size="4.2" fill="#262626" text-anchor="start" textLength="11.2" lengthAdjust="spacingAndGlyphs">Sep21</text>
<text x="230" y="243" font-size="3.9" fill="#2e2e2e" text-anchor="middle">10%</text>
<text x="230" y="283" font-size="3.9" fill="#2e2e2e" text-anchor="middle">10%</text>
<text transform="translate(229.14 316.9) rotate(-90)" x="0" y="1.5" font-size="4.2" fill="#262626" text-anchor="start" textLength="10.6" lengthAdjust="spacingAndGlyphs">Oct21</text>
<text x="235.8" y="272" font-size="4" fill="#2e2e2e" text-anchor="middle">11%</text>
<text x="241.3" y="283" font-size="3.9" fill="#2e2e2e" text-anchor="middle">11%</text>
<text transform="translate(241.8 316.9) rotate(-90)" x="0" y="1.5" font-size="4.2" fill="#262626" text-anchor="start" textLength="11.2" lengthAdjust="spacingAndGlyphs">Nov21</text>
<text x="253.5" y="261" font-size="3.9" fill="#2e2e2e" text-anchor="middle">22%</text>
<text x="254.5" y="280" font-size="3.9" fill="#2e2e2e" text-anchor="middle">22%</text>
<text transform="translate(254.46 316.9) rotate(-90)" x="0" y="1.5" font-size="4.2" fill="#262626" text-anchor="start" textLength="11" lengthAdjust="spacingAndGlyphs">Dec21</text>
<text x="268.2" y="253" font-size="3.9" fill="#2e2e2e" text-anchor="middle">8%</text>
<text x="268.2" y="270" font-size="3.9" fill="#2e2e2e" text-anchor="middle">8%</text>
<text transform="translate(267.12 316.9) rotate(-90)" x="0" y="1.5" font-size="4.2" fill="#262626" text-anchor="start" textLength="10.6" lengthAdjust="spacingAndGlyphs">Jan22</text>
<text x="279.8" y="277" font-size="4.3" fill="#2e2e2e" text-anchor="middle">23%</text>
<text x="279.8" y="295" font-size="3.9" fill="#2e2e2e" text-anchor="middle">23%</text>
<text transform="translate(279.78 316.9) rotate(-90)" x="0" y="1.5" font-size="4.2" fill="#262626" text-anchor="start" textLength="10.9" lengthAdjust="spacingAndGlyphs">Feb22</text>
<text x="293.3" y="238" font-size="3.9" fill="#2e2e2e" text-anchor="middle">25%</text>
<text x="293.3" y="275" font-size="4" fill="#2e2e2e" text-anchor="middle">23%</text>
<text transform="translate(292.44 316.9) rotate(-90)" x="0" y="1.5" font-size="4.2" fill="#262626" text-anchor="start" textLength="11.2" lengthAdjust="spacingAndGlyphs">Mar22</text>
<text x="305.5" y="270" font-size="4.3" fill="#2e2e2e" text-anchor="middle">23%</text>
<text x="305.5" y="275" font-size="4" fill="#2e2e2e" text-anchor="middle">23%</text>
<text transform="translate(305.1 316.9) rotate(-90)" x="0" y="1.5" font-size="4.2" fill="#262626" text-anchor="start" textLength="10.6" lengthAdjust="spacingAndGlyphs">Apr22</text>
<text x="318.4" y="256" font-size="4.3" fill="#2e2e2e" text-anchor="middle">45%</text>
<text x="318.4" y="273" font-size="4.3" fill="#2e2e2e" text-anchor="middle">45%</text>
<text transform="translate(317.76 316.9) rotate(-90)" x="0" y="1.5" font-size="4.2" fill="#262626" text-anchor="start" textLength="11.6" lengthAdjust="spacingAndGlyphs">May22</text>
</g>
</svg>
<svg style="left:335px;top:212px" width="230" height="111" viewBox="335 212 230 111"><rect x="336.5" y="213.5" width="227.5" height="108" fill="#ffffff"/></svg>
<svg style="left:335px;top:213px" width="230" height="13" viewBox="335 213 230 13"><rect x="336.9" y="214" width="226.7" height="10.9" fill="#e8e8e8"/></svg>
<span class="t" style="left:342px;top:218px;font-size:6px;color:#0a0a0a;transform:scaleX(1.088);">Segment---&gt;Brand</span>
<svg style="left:481px;top:215px" width="9" height="9" viewBox="481 215 9 9"><rect x="482.3" y="216.2" width="6.4" height="6.1" rx="1.6" fill="#15a048"/></svg>
<span class="t" style="left:492.7px;top:218px;font-size:4.5px;color:#0a0a0a;font-weight:700;transform:scaleX(1.128);">Target INR</span>
<svg style="left:522px;top:215px" width="9" height="9" viewBox="522 215 9 9"><rect x="523.5" y="216.2" width="6.4" height="6.1" rx="1.6" fill="#fbd02b"/></svg>
<span class="t" style="left:532.5px;top:218px;font-size:4.5px;color:#0a0a0a;font-weight:700;transform:scaleX(1.099);">Actual INR</span>
<svg style="left:567px;top:212px" width="231" height="111" viewBox="567 212 231 111"><rect x="568.7" y="213.5" width="228.1" height="108" fill="#ffffff"/></svg>
<svg style="left:568px;top:213px" width="230" height="13" viewBox="568 213 230 13"><rect x="569.1" y="214" width="227.3" height="10.9" fill="#eeeeee"/></svg>
<span class="t" style="left:574.9px;top:219px;font-size:5.9px;color:#0a0a0a;font-weight:700;transform:scaleX(1.037);">BM : Depletion Volume</span>
<svg style="left:5px;top:327px" width="95" height="104" viewBox="5 327 95 104"><rect x="6.2" y="328" width="92.1" height="101.7" fill="#fdd31c"/></svg>
<span class="t" style="left:13.2px;top:337px;font-size:6.3px;color:#14301c;font-weight:700;transform:scaleX(1.067);">MS OS %</span>
<span class="t" style="left:14.3px;top:360px;font-size:6.8px;color:#1f5a33;transform:scaleX(1.111);">Actual</span>
<span class="t" style="left:51.8px;top:355px;font-size:13.4px;color:#0f3018;font-weight:700;transform:scaleX(1.152);">40%</span>
<span class="t" style="left:14.3px;top:380px;font-size:6.6px;color:#1f5a33;transform:scaleX(1.134);">Target</span>
<span class="t" style="left:51.8px;top:375px;font-size:13.2px;color:#1c5a2e;transform:scaleX(0.954);">41%</span>
<svg style="left:5.9px;top:328px" width="92.5" height="101.7" viewBox="5.9 328 92.5 101.7">
<polyline points="15.4,403.3 24.3,403.3 33.6,403.3 42.5,403.6 49.5,408.4 57.4,415.9 64.9,420.7 74.7,420.7 82.3,420.7 89.3,420.7" fill="none" stroke="#149a44" stroke-width="0.95" stroke-linejoin="round" stroke-linecap="round"/>
<circle cx="15.4" cy="403.3" r="1.75" fill="#0c2a12"/>
<circle cx="24.3" cy="403.3" r="1.75" fill="#0c2a12"/>
<circle cx="33.6" cy="403.3" r="1.75" fill="#0c2a12"/>
<circle cx="42.5" cy="403.6" r="1.75" fill="#0c2a12"/>
<circle cx="49.5" cy="408.4" r="1.75" fill="#0c2a12"/>
<circle cx="57.4" cy="415.9" r="1.75" fill="#0c2a12"/>
<circle cx="64.9" cy="420.7" r="1.75" fill="#0c2a12"/>
<circle cx="74.7" cy="420.7" r="1.75" fill="#0c2a12"/>
<circle cx="82.3" cy="420.7" r="1.75" fill="#0c2a12"/>
</svg>
<svg style="left:103px;top:327px" width="230" height="104" viewBox="103 327 230 104"><rect x="104" y="328" width="228" height="101.7" fill="#ffffff"/></svg>
<svg style="left:103px;top:327px" width="230" height="14" viewBox="103 327 230 14"><rect x="104.4" y="328.5" width="227.2" height="10.9" fill="#e8e8e8"/></svg>
<span class="t" style="left:109.5px;top:333px;font-size:5.9px;color:#0a0a0a;font-weight:700;transform:scaleX(1.034);">Year---&gt; Quarter</span>
<svg style="left:248px;top:329px" width="10" height="9" viewBox="248 329 10 9"><rect x="249.7" y="330.7" width="6.4" height="6.1" rx="1.6" fill="#15a048"/></svg>
<span class="t" style="left:259.6px;top:333px;font-size:4.6px;color:#0a0a0a;font-weight:700;transform:scaleX(1.104);">Target INR</span>
<svg style="left:289px;top:329px" width="9" height="9" viewBox="289 329 9 9"><rect x="290.5" y="330.7" width="6.4" height="6.1" rx="1.6" fill="#fbd02b"/></svg>
<span class="t" style="left:300.2px;top:333px;font-size:4.6px;color:#0a0a0a;font-weight:700;transform:scaleX(1.075);">Actual INR</span>
<svg style="left:104px;top:328px" width="228" height="101.7" viewBox="104 328 228 101.7">
<polyline points="115.2,402.7 127.8,400.1 140.3,381.4 153.3,396.7 165.8,394 178.4,391.5 191.3,389.2 205,365.8 218.4,363 229,396.7 242.3,396.7 254.5,392.7 268.2,362.8 280.6,396.7 294.4,372.5 306.4,387.5 318.4,385.4" fill="none" stroke="#149944" stroke-width="1.3" stroke-linejoin="round" stroke-linecap="round"/>
<polyline points="115.2,387.7 127.8,384.9 140.3,366.8 153.3,381.6 165.8,379 178.4,376.7 191.3,374.2 205,357.3 218.4,402.9 229,381.4 242.3,406.5 254.5,378 268.2,354.2 280.6,381.4 294.4,357.3 306.4,372.7 318.4,370.4" fill="none" stroke="#fcd531" stroke-width="1.3" stroke-linejoin="round" stroke-linecap="round"/>
<circle cx="115.2" cy="402.7" r="1.6" fill="#0b6b33"/>
<circle cx="115.2" cy="387.7" r="1.6" fill="#8f7410"/>
<circle cx="127.8" cy="400.1" r="1.6" fill="#0b6b33"/>
<circle cx="127.8" cy="384.9" r="1.6" fill="#8f7410"/>
<circle cx="140.3" cy="381.4" r="1.6" fill="#0b6b33"/>
<circle cx="140.3" cy="366.8" r="1.6" fill="#8f7410"/>
<circle cx="153.3" cy="396.7" r="1.6" fill="#0b6b33"/>
<circle cx="153.3" cy="381.6" r="1.6" fill="#8f7410"/>
<circle cx="165.8" cy="394" r="1.6" fill="#0b6b33"/>
<circle cx="165.8" cy="379" r="1.6" fill="#8f7410"/>
<circle cx="178.4" cy="391.5" r="1.6" fill="#0b6b33"/>
<circle cx="178.4" cy="376.7" r="1.6" fill="#8f7410"/>
<circle cx="191.3" cy="389.2" r="1.6" fill="#0b6b33"/>
<circle cx="191.3" cy="374.2" r="1.6" fill="#8f7410"/>
<circle cx="205" cy="365.8" r="1.6" fill="#0b6b33"/>
<circle cx="205" cy="357.3" r="1.6" fill="#8f7410"/>
<circle cx="218.4" cy="363" r="1.6" fill="#0b6b33"/>
<circle cx="218.4" cy="402.9" r="1.6" fill="#8f7410"/>
<circle cx="229" cy="396.7" r="1.6" fill="#0b6b33"/>
<circle cx="229" cy="381.4" r="1.6" fill="#8f7410"/>
<circle cx="242.3" cy="396.7" r="1.6" fill="#0b6b33"/>
<circle cx="242.3" cy="406.5" r="1.6" fill="#8f7410"/>
<circle cx="254.5" cy="392.7" r="1.6" fill="#0b6b33"/>
<circle cx="254.5" cy="378" r="1.6" fill="#8f7410"/>
<circle cx="268.2" cy="362.8" r="1.6" fill="#0b6b33"/>
<circle cx="268.2" cy="354.2" r="1.6" fill="#8f7410"/>
<circle cx="280.6" cy="396.7" r="1.6" fill="#0b6b33"/>
<circle cx="280.6" cy="381.4" r="1.6" fill="#8f7410"/>
<circle cx="294.4" cy="372.5" r="1.6" fill="#0b6b33"/>
<circle cx="294.4" cy="357.3" r="1.6" fill="#8f7410"/>
<circle cx="306.4" cy="387.5" r="1.6" fill="#0b6b33"/>
<circle cx="306.4" cy="372.7" r="1.6" fill="#8f7410"/>
<circle cx="318.4" cy="385.4" r="1.6" fill="#0b6b33"/>
<circle cx="318.4" cy="370.4" r="1.6" fill="#8f7410"/>
<g>
<text x="116.7" y="381" font-size="3.9" fill="#2e2e2e" text-anchor="middle">32%</text>
<text x="116.7" y="408" font-size="4" fill="#2e2e2e" text-anchor="middle">32%</text>
<text transform="translate(115.2 425) rotate(-90)" x="0" y="1.5" font-size="4.2" fill="#262626" text-anchor="start" textLength="10.6" lengthAdjust="spacingAndGlyphs">Jan21</text>
<text x="127.8" y="392" font-size="4.3" fill="#2e2e2e" text-anchor="middle">32%</text>
<text x="127.8" y="405" font-size="3.9" fill="#2e2e2e" text-anchor="middle">32%</text>
<text transform="translate(127.86 425) rotate(-90)" x="0" y="1.5" font-size="4.2" fill="#262626" text-anchor="start" textLength="10.9" lengthAdjust="spacingAndGlyphs">Feb21</text>
<text x="140.8" y="361" font-size="3.9" fill="#2e2e2e" text-anchor="middle">32%</text>
<text x="140.8" y="377" font-size="3.9" fill="#2e2e2e" text-anchor="middle">32%</text>
<text transform="translate(140.52 425) rotate(-90)" x="0" y="1.5" font-size="4.2" fill="#262626" text-anchor="start" textLength="11.2" lengthAdjust="spacingAndGlyphs">Mar21</text>
<text x="153.3" y="388" font-size="4.3" fill="#2e2e2e" text-anchor="middle">32%</text>
<text x="154.8" y="402" font-size="3.9" fill="#2e2e2e" text-anchor="middle">12%</text>
<text transform="translate(153.18 425) rotate(-90)" x="0" y="1.5" font-size="4.2" fill="#262626" text-anchor="start" textLength="10.6" lengthAdjust="spacingAndGlyphs">Apr21</text>
<text x="165.8" y="372" font-size="3.9" fill="#2e2e2e" text-anchor="middle">32%</text>
<text x="166.5" y="401" font-size="4" fill="#2e2e2e" text-anchor="middle">32%</text>
<text transform="translate(165.84 425) rotate(-90)" x="0" y="1.5" font-size="4.2" fill="#262626" text-anchor="start" textLength="11.6" lengthAdjust="spacingAndGlyphs">May21</text>
<text x="179.9" y="369" font-size="3.9" fill="#2e2e2e" text-anchor="middle">32%</text>
<text x="179.9" y="399" font-size="3.9" fill="#2e2e2e" text-anchor="middle">15%</text>
<text transform="translate(178.5 425) rotate(-90)" x="0" y="1.5" font-size="4.2" fill="#262626" text-anchor="start" textLength="10.8" lengthAdjust="spacingAndGlyphs">Jun21</text>
<text x="192.7" y="369" font-size="3.9" fill="#2e2e2e" text-anchor="middle">12%</text>
<text x="192.7" y="396" font-size="3.9" fill="#2e2e2e" text-anchor="middle">15%</text>
<text transform="translate(191.16 425) rotate(-90)" x="0" y="1.5" font-size="4.2" fill="#262626" text-anchor="start" textLength="9.6" lengthAdjust="spacingAndGlyphs">Jul21</text>
<text x="206.5" y="352" font-size="4.3" fill="#2e2e2e" text-anchor="middle">78%</text>
<text x="203.5" y="372" font-size="4" fill="#2e2e2e" text-anchor="middle">32%</text>
<text transform="translate(203.82 425) rotate(-90)" x="0" y="1.5" font-size="4.2" fill="#262626" text-anchor="start" textLength="11.4" lengthAdjust="spacingAndGlyphs">Aug21</text>
<text x="218.4" y="408" font-size="3.9" fill="#2e2e2e" text-anchor="middle">34%</text>
<text x="218.4" y="357" font-size="3.9" fill="#2e2e2e" text-anchor="middle">58%</text>
<text transform="translate(216.48 425) rotate(-90)" x="0" y="1.5" font-size="4.2" fill="#262626" text-anchor="start" textLength="11.2" lengthAdjust="spacingAndGlyphs">Sep21</text>
<text x="231" y="376" font-size="3.9" fill="#2e2e2e" text-anchor="middle">34%</text>
<text x="231" y="404" font-size="4.3" fill="#2e2e2e" text-anchor="middle">34%</text>
<text transform="translate(229.14 425) rotate(-90)" x="0" y="1.5" font-size="4.2" fill="#262626" text-anchor="start" textLength="10.6" lengthAdjust="spacingAndGlyphs">Oct21</text>
<text x="242.3" y="390" font-size="3.9" fill="#2e2e2e" text-anchor="middle">34%</text>
<text transform="translate(241.8 425) rotate(-90)" x="0" y="1.5" font-size="4.2" fill="#262626" text-anchor="start" textLength="11.2" lengthAdjust="spacingAndGlyphs">Nov21</text>
<text x="249.5" y="372" font-size="4.3" fill="#2e2e2e" text-anchor="middle">34%</text>
<text x="256.7" y="399" font-size="3.9" fill="#2e2e2e" text-anchor="middle">34%</text>
<text transform="translate(254.46 425) rotate(-90)" x="0" y="1.5" font-size="4.2" fill="#262626" text-anchor="start" textLength="11" lengthAdjust="spacingAndGlyphs">Dec21</text>
<text x="269" y="350" font-size="3.9" fill="#2e2e2e" text-anchor="middle">34%</text>
<text transform="translate(267.12 425) rotate(-90)" x="0" y="1.5" font-size="4.2" fill="#262626" text-anchor="start" textLength="10.6" lengthAdjust="spacingAndGlyphs">Jan22</text>
<text x="281.4" y="371" font-size="4.3" fill="#2e2e2e" text-anchor="middle">15%</text>
<text x="280" y="402" font-size="3.9" fill="#2e2e2e" text-anchor="middle">15%</text>
<text transform="translate(279.78 425) rotate(-90)" x="0" y="1.5" font-size="4.2" fill="#262626" text-anchor="start" textLength="10.9" lengthAdjust="spacingAndGlyphs">Feb22</text>
<text x="294.4" y="353" font-size="3.9" fill="#2e2e2e" text-anchor="middle">34%</text>
<text transform="translate(292.44 425) rotate(-90)" x="0" y="1.5" font-size="4.2" fill="#262626" text-anchor="start" textLength="11.2" lengthAdjust="spacingAndGlyphs">Mar22</text>
<text x="306" y="395" font-size="3.9" fill="#2e2e2e" text-anchor="middle">13%</text>
<text transform="translate(305.1 425) rotate(-90)" x="0" y="1.5" font-size="4.2" fill="#262626" text-anchor="start" textLength="10.6" lengthAdjust="spacingAndGlyphs">Apr22</text>
<text x="318.4" y="365" font-size="4.3" fill="#2e2e2e" text-anchor="middle">34%</text>
<text x="318" y="394" font-size="3.9" fill="#2e2e2e" text-anchor="middle">34%</text>
<text transform="translate(317.76 425) rotate(-90)" x="0" y="1.5" font-size="4.2" fill="#262626" text-anchor="start" textLength="11.6" lengthAdjust="spacingAndGlyphs">May22</text>
</g>
</svg>
<svg style="left:335px;top:327px" width="230" height="104" viewBox="335 327 230 104"><rect x="336.5" y="328" width="227.5" height="101.7" fill="#ffffff"/></svg>
<svg style="left:335px;top:327px" width="230" height="14" viewBox="335 327 230 14"><rect x="336.9" y="328.5" width="226.7" height="10.9" fill="#e8e8e8"/></svg>
<span class="t" style="left:342px;top:333px;font-size:6.1px;color:#0a0a0a;transform:scaleX(1.070);">Segment---&gt;Brand</span>
<svg style="left:481px;top:329px" width="9" height="9" viewBox="481 329 9 9"><rect x="482.3" y="330.7" width="6.4" height="6.1" rx="1.6" fill="#15a048"/></svg>
<span class="t" style="left:492.7px;top:333px;font-size:4.6px;color:#0a0a0a;font-weight:700;transform:scaleX(1.104);">Target INR</span>
<svg style="left:522px;top:329px" width="9" height="9" viewBox="522 329 9 9"><rect x="523.5" y="330.7" width="6.4" height="6.1" rx="1.6" fill="#fbd02b"/></svg>
<span class="t" style="left:532.5px;top:333px;font-size:4.6px;color:#0a0a0a;font-weight:700;transform:scaleX(1.075);">Actual INR</span>
<svg style="left:567px;top:327px" width="231" height="104" viewBox="567 327 231 104"><rect x="568.7" y="328" width="228.1" height="101.7" fill="#ffffff"/></svg>
<svg style="left:568px;top:327px" width="230" height="14" viewBox="568 327 230 14"><rect x="569.1" y="328.5" width="227.3" height="10.9" fill="#eeeeee"/></svg>
<span class="t" style="left:574.9px;top:333px;font-size:5.9px;color:#0a0a0a;font-weight:700;transform:scaleX(1.037);">BM : Depletion Volume</span>
<svg style="left:336.5px;top:99.5px" width="227.5" height="108.4" viewBox="336.5 99.5 227.5 108.4">
<rect x="346.22" y="173.8" width="2.95" height="1.8" fill="#fbd02b"/>
<text x="348.7" y="171" font-size="3.7" fill="#2e2e2e" text-anchor="middle">0</text>
<text transform="translate(347.3 203.1) rotate(-90)" x="0" y="1.32" font-size="3.7" fill="#262626" text-anchor="start" textLength="18.8" lengthAdjust="spacingAndGlyphs">SEGMEN...</text>
<rect x="358.75" y="173.8" width="2.95" height="1.8" fill="#fbd02b"/>
<rect x="362.45" y="173.8" width="2.95" height="1.8" fill="#149944"/>
<text x="361.67" y="171" font-size="3.7" fill="#2e2e2e" text-anchor="middle">1 1</text>
<text transform="translate(360.9 203.1) rotate(-90)" x="0" y="1.32" font-size="3.7" fill="#262626" text-anchor="start" textLength="18.8" lengthAdjust="spacingAndGlyphs">SEGMEN...</text>
<rect x="372.38" y="173.8" width="2.95" height="1.8" fill="#fbd02b"/>
<rect x="376.08" y="173.8" width="2.95" height="1.8" fill="#149944"/>
<text x="375.3" y="171" font-size="3.7" fill="#2e2e2e" text-anchor="middle">4 9</text>
<text transform="translate(374.5 203.1) rotate(-90)" x="0" y="1.32" font-size="3.7" fill="#262626" text-anchor="start" textLength="18.8" lengthAdjust="spacingAndGlyphs">SEGMEN...</text>
<rect x="386.21" y="173.8" width="2.95" height="1.8" fill="#fbd02b"/>
<rect x="389.91" y="173.8" width="2.95" height="1.8" fill="#149944"/>
<text x="389.05" y="171" font-size="3.7" fill="#2e2e2e" text-anchor="middle">8 3</text>
<text transform="translate(388.1 203.1) rotate(-90)" x="0" y="1.32" font-size="3.7" fill="#262626" text-anchor="start" textLength="18.8" lengthAdjust="spacingAndGlyphs">SEGMEN...</text>
<rect x="399.04" y="173.8" width="2.95" height="1.8" fill="#fbd02b"/>
<rect x="402.74" y="173.8" width="2.95" height="1.8" fill="#149944"/>
<text x="402.2" y="171" font-size="3.7" fill="#2e2e2e" text-anchor="middle">2 0</text>
<text transform="translate(401.7 203.1) rotate(-90)" x="0" y="1.32" font-size="3.7" fill="#262626" text-anchor="start" textLength="18.8" lengthAdjust="spacingAndGlyphs">SEGMEN...</text>
<rect x="412.97" y="140.9" width="2.95" height="35" fill="#fbd02b"/>
<rect x="416.67" y="146.8" width="2.95" height="29.1" fill="#149944"/>
<text x="416.01" y="134" font-size="4.1" fill="#2e2e2e" text-anchor="middle">3213</text>
<text x="416.01" y="139" font-size="3.9" fill="#2e2e2e" text-anchor="middle">287%</text>
<text transform="translate(415.3 203.1) rotate(-90)" x="0" y="1.32" font-size="3.7" fill="#262626" text-anchor="start" textLength="18.8" lengthAdjust="spacingAndGlyphs">SEGMEN...</text>
<rect x="427.8" y="173.8" width="2.95" height="1.8" fill="#fbd02b"/>
<rect x="431.5" y="173.8" width="2.95" height="1.8" fill="#149944"/>
<text x="430.36" y="166" font-size="3.7" fill="#2e2e2e" text-anchor="middle">3213</text>
<text x="430.36" y="172" font-size="4.1" fill="#2e2e2e" text-anchor="middle">287%</text>
<text transform="translate(428.9 203.1) rotate(-90)" x="0" y="1.32" font-size="3.7" fill="#262626" text-anchor="start" textLength="18.8" lengthAdjust="spacingAndGlyphs">SEGMEN...</text>
<rect x="439.83" y="155.1" width="2.95" height="20.8" fill="#fbd02b"/>
<rect x="443.53" y="151.2" width="2.95" height="24.7" fill="#149944"/>
<text x="443.03" y="144" font-size="4.1" fill="#2e2e2e" text-anchor="middle">3213</text>
<text x="443.03" y="149" font-size="3.7" fill="#2e2e2e" text-anchor="middle">287%</text>
<text transform="translate(442.5 203.1) rotate(-90)" x="0" y="1.32" font-size="3.7" fill="#262626" text-anchor="start" textLength="18.8" lengthAdjust="spacingAndGlyphs">SEGMEN...</text>
<rect x="453.56" y="155.1" width="2.95" height="20.8" fill="#fbd02b"/>
<rect x="457.26" y="151.2" width="2.95" height="24.7" fill="#149944"/>
<text x="456.72" y="144" font-size="4.1" fill="#2e2e2e" text-anchor="middle">3213</text>
<text x="456.72" y="149" font-size="3.7" fill="#2e2e2e" text-anchor="middle">287%</text>
<text transform="translate(456.1 203.1) rotate(-90)" x="0" y="1.32" font-size="3.7" fill="#262626" text-anchor="start" textLength="18.8" lengthAdjust="spacingAndGlyphs">SEGMEN...</text>
<rect x="467.09" y="155.1" width="2.95" height="20.8" fill="#fbd02b"/>
<rect x="470.79" y="151.2" width="2.95" height="24.7" fill="#149944"/>
<text x="470.29" y="144" font-size="4.1" fill="#2e2e2e" text-anchor="middle">3213</text>
<text x="470.29" y="149" font-size="3.7" fill="#2e2e2e" text-anchor="middle">287%</text>
<text transform="translate(469.7 203.1) rotate(-90)" x="0" y="1.32" font-size="3.7" fill="#262626" text-anchor="start" textLength="18.8" lengthAdjust="spacingAndGlyphs">SEGMEN...</text>
<rect x="480.12" y="173.8" width="2.95" height="1.8" fill="#fbd02b"/>
<rect x="483.82" y="173.8" width="2.95" height="1.8" fill="#149944"/>
<text x="483.56" y="166" font-size="3.7" fill="#2e2e2e" text-anchor="middle">3213</text>
<text x="483.56" y="172" font-size="4.1" fill="#2e2e2e" text-anchor="middle">287%</text>
<text transform="translate(483.3 203.1) rotate(-90)" x="0" y="1.32" font-size="3.7" fill="#262626" text-anchor="start" textLength="18.8" lengthAdjust="spacingAndGlyphs">SEGMEN...</text>
<rect x="494.35" y="173.8" width="2.95" height="1.8" fill="#fbd02b"/>
<rect x="498.05" y="173.8" width="2.95" height="1.8" fill="#149944"/>
<text x="497.55" y="166" font-size="3.7" fill="#2e2e2e" text-anchor="middle">3213</text>
<text x="497.55" y="172" font-size="4.1" fill="#2e2e2e" text-anchor="middle">287%</text>
<text transform="translate(496.9 203.1) rotate(-90)" x="0" y="1.32" font-size="3.7" fill="#262626" text-anchor="start" textLength="18.8" lengthAdjust="spacingAndGlyphs">SEGMEN...</text>
<rect x="508.28" y="173.8" width="2.95" height="1.8" fill="#fbd02b"/>
<rect x="511.99" y="173.8" width="2.95" height="1.8" fill="#149944"/>
<text x="511.36" y="166" font-size="3.7" fill="#2e2e2e" text-anchor="middle">3213</text>
<text x="511.36" y="172" font-size="4.1" fill="#2e2e2e" text-anchor="middle">287%</text>
<text transform="translate(510.5 203.1) rotate(-90)" x="0" y="1.32" font-size="3.7" fill="#262626" text-anchor="start" textLength="18.8" lengthAdjust="spacingAndGlyphs">SEGMEN...</text>
<rect x="521.92" y="173.8" width="2.95" height="1.8" fill="#fbd02b"/>
<rect x="525.62" y="173.8" width="2.95" height="1.8" fill="#149944"/>
<text x="524.99" y="166" font-size="3.7" fill="#2e2e2e" text-anchor="middle">3213</text>
<text x="524.99" y="172" font-size="4.1" fill="#2e2e2e" text-anchor="middle">287%</text>
<text transform="translate(524.1 203.1) rotate(-90)" x="0" y="1.32" font-size="3.7" fill="#262626" text-anchor="start" textLength="18.8" lengthAdjust="spacingAndGlyphs">SEGMEN...</text>
<rect x="535.25" y="155.1" width="2.95" height="20.8" fill="#fbd02b"/>
<rect x="538.95" y="151.2" width="2.95" height="24.7" fill="#149944"/>
<text x="538.44" y="143" font-size="4.1" fill="#2e2e2e" text-anchor="middle">3213</text>
<text x="538.44" y="148" font-size="4.1" fill="#2e2e2e" text-anchor="middle">287%</text>
<text transform="translate(537.7 203.1) rotate(-90)" x="0" y="1.32" font-size="3.7" fill="#262626" text-anchor="start" textLength="18.8" lengthAdjust="spacingAndGlyphs">SEGMEN...</text>
<rect x="549.18" y="155.1" width="2.95" height="20.8" fill="#fbd02b"/>
<rect x="552.88" y="151.2" width="2.95" height="24.7" fill="#149944"/>
<text x="552.25" y="143" font-size="4.1" fill="#2e2e2e" text-anchor="middle">3213</text>
<text x="552.25" y="148" font-size="4.1" fill="#2e2e2e" text-anchor="middle">287%</text>
<text transform="translate(551.3 203.1) rotate(-90)" x="0" y="1.32" font-size="3.7" fill="#262626" text-anchor="start" textLength="13.2" lengthAdjust="spacingAndGlyphs">(Blank)</text>
</svg>
<svg style="left:336.5px;top:328px" width="227.5" height="101.8" viewBox="336.5 328 227.5 101.8">
<rect x="346.22" y="370.3" width="2.95" height="29.8" fill="#fbd02b"/>
<text x="348.7" y="364" font-size="3.7" fill="#2e2e2e" text-anchor="middle">98%</text>
<text transform="translate(347.3 424.9) rotate(-90)" x="0" y="1.32" font-size="3.7" fill="#262626" text-anchor="start" textLength="18.8" lengthAdjust="spacingAndGlyphs">SEGMEN...</text>
<rect x="358.75" y="370.3" width="2.95" height="29.8" fill="#fbd02b"/>
<rect x="362.45" y="398.3" width="2.95" height="1.5" fill="#149944"/>
<text x="361.67" y="364" font-size="3.7" fill="#2e2e2e" text-anchor="middle">102%</text>
<text transform="translate(360.9 424.9) rotate(-90)" x="0" y="1.32" font-size="3.7" fill="#262626" text-anchor="start" textLength="18.8" lengthAdjust="spacingAndGlyphs">SEGMEN...</text>
<rect x="372.38" y="370.3" width="2.95" height="29.8" fill="#fbd02b"/>
<rect x="376.08" y="370.3" width="2.95" height="29.8" fill="#149944"/>
<text x="375.3" y="364" font-size="3.7" fill="#2e2e2e" text-anchor="middle">41%</text>
<text transform="translate(374.5 424.9) rotate(-90)" x="0" y="1.32" font-size="3.7" fill="#262626" text-anchor="start" textLength="18.8" lengthAdjust="spacingAndGlyphs">SEGMEN...</text>
<rect x="386.21" y="370.3" width="2.95" height="29.8" fill="#fbd02b"/>
<rect x="389.91" y="398.3" width="2.95" height="1.5" fill="#149944"/>
<text x="389.05" y="364" font-size="3.7" fill="#2e2e2e" text-anchor="middle">52%</text>
<text transform="translate(388.1 424.9) rotate(-90)" x="0" y="1.32" font-size="3.7" fill="#262626" text-anchor="start" textLength="18.8" lengthAdjust="spacingAndGlyphs">SEGMEN...</text>
<rect x="399.04" y="370.3" width="2.95" height="29.8" fill="#fbd02b"/>
<rect x="402.74" y="370.3" width="2.95" height="29.8" fill="#149944"/>
<text x="402.2" y="364" font-size="3.7" fill="#2e2e2e" text-anchor="middle">20%</text>
<text transform="translate(401.7 424.9) rotate(-90)" x="0" y="1.32" font-size="3.7" fill="#262626" text-anchor="start" textLength="18.8" lengthAdjust="spacingAndGlyphs">SEGMEN...</text>
<rect x="412.97" y="378.6" width="2.95" height="21.5" fill="#fbd02b"/>
<rect x="416.67" y="382.1" width="2.95" height="18" fill="#149944"/>
<text x="416.01" y="366" font-size="3.7" fill="#2e2e2e" text-anchor="middle">323%</text>
<text x="416.01" y="374" font-size="3.7" fill="#2e2e2e" text-anchor="middle">287%</text>
<text transform="translate(415.3 424.9) rotate(-90)" x="0" y="1.32" font-size="3.7" fill="#262626" text-anchor="start" textLength="18.8" lengthAdjust="spacingAndGlyphs">SEGMEN...</text>
<rect x="427.8" y="398.3" width="2.95" height="1.5" fill="#fbd02b"/>
<rect x="431.5" y="398.3" width="2.95" height="1.5" fill="#149944"/>
<text x="430.36" y="387" font-size="3.7" fill="#2e2e2e" text-anchor="middle">313%</text>
<text x="430.36" y="395" font-size="3.7" fill="#2e2e2e" text-anchor="middle">286%</text>
<text transform="translate(428.9 424.9) rotate(-90)" x="0" y="1.32" font-size="3.7" fill="#262626" text-anchor="start" textLength="18.8" lengthAdjust="spacingAndGlyphs">SEGMEN...</text>
<rect x="439.83" y="378.6" width="2.95" height="21.5" fill="#fbd02b"/>
<rect x="443.53" y="375" width="2.95" height="25.1" fill="#149944"/>
<text x="443.03" y="363" font-size="3.7" fill="#2e2e2e" text-anchor="middle">313%</text>
<text x="443.03" y="371" font-size="4.1" fill="#2e2e2e" text-anchor="middle">286%</text>
<text transform="translate(442.5 424.9) rotate(-90)" x="0" y="1.32" font-size="3.7" fill="#262626" text-anchor="start" textLength="18.8" lengthAdjust="spacingAndGlyphs">SEGMEN...</text>
<rect x="453.56" y="378.6" width="2.95" height="21.5" fill="#fbd02b"/>
<rect x="457.26" y="375" width="2.95" height="25.1" fill="#149944"/>
<text x="456.72" y="363" font-size="3.7" fill="#2e2e2e" text-anchor="middle">323%</text>
<text x="456.72" y="371" font-size="4.1" fill="#2e2e2e" text-anchor="middle">287%</text>
<text transform="translate(456.1 424.9) rotate(-90)" x="0" y="1.32" font-size="3.7" fill="#262626" text-anchor="start" textLength="18.8" lengthAdjust="spacingAndGlyphs">SEGMEN...</text>
<rect x="467.09" y="378.6" width="2.95" height="21.5" fill="#fbd02b"/>
<rect x="470.79" y="375" width="2.95" height="25.1" fill="#149944"/>
<text x="470.29" y="363" font-size="3.7" fill="#2e2e2e" text-anchor="middle">323%</text>
<text x="470.29" y="371" font-size="4.1" fill="#2e2e2e" text-anchor="middle">287%</text>
<text transform="translate(469.7 424.9) rotate(-90)" x="0" y="1.32" font-size="3.7" fill="#262626" text-anchor="start" textLength="18.8" lengthAdjust="spacingAndGlyphs">SEGMEN...</text>
<rect x="480.12" y="381.6" width="2.95" height="18.5" fill="#fbd02b"/>
<rect x="483.82" y="382.1" width="2.95" height="18" fill="#149944"/>
<text x="483.56" y="370" font-size="4.1" fill="#2e2e2e" text-anchor="middle">32%</text>
<text x="483.56" y="377" font-size="3.9" fill="#2e2e2e" text-anchor="middle">287%</text>
<text transform="translate(483.3 424.9) rotate(-90)" x="0" y="1.32" font-size="3.7" fill="#262626" text-anchor="start" textLength="18.8" lengthAdjust="spacingAndGlyphs">SEGMEN...</text>
<rect x="494.35" y="382.1" width="2.95" height="18" fill="#fbd02b"/>
<rect x="498.05" y="383.9" width="2.95" height="16.2" fill="#149944"/>
<text x="497.55" y="370" font-size="4.1" fill="#2e2e2e" text-anchor="middle">323%</text>
<text x="497.55" y="377" font-size="3.9" fill="#2e2e2e" text-anchor="middle">276%</text>
<text transform="translate(496.9 424.9) rotate(-90)" x="0" y="1.32" font-size="3.7" fill="#262626" text-anchor="start" textLength="18.8" lengthAdjust="spacingAndGlyphs">SEGMEN...</text>
<rect x="508.28" y="382.1" width="2.95" height="18" fill="#fbd02b"/>
<rect x="511.99" y="383.9" width="2.95" height="16.2" fill="#149944"/>
<text x="511.36" y="370" font-size="4.1" fill="#2e2e2e" text-anchor="middle">313%</text>
<text x="511.36" y="377" font-size="3.9" fill="#2e2e2e" text-anchor="middle">876%</text>
<text transform="translate(510.5 424.9) rotate(-90)" x="0" y="1.32" font-size="3.7" fill="#262626" text-anchor="start" textLength="18.8" lengthAdjust="spacingAndGlyphs">SEGMEN...</text>
<rect x="521.92" y="382.1" width="2.95" height="18" fill="#fbd02b"/>
<rect x="525.62" y="383.9" width="2.95" height="16.2" fill="#149944"/>
<text x="524.99" y="370" font-size="4.1" fill="#2e2e2e" text-anchor="middle">313%</text>
<text x="524.99" y="377" font-size="3.9" fill="#2e2e2e" text-anchor="middle">36%</text>
<text transform="translate(524.1 424.9) rotate(-90)" x="0" y="1.32" font-size="3.7" fill="#262626" text-anchor="start" textLength="18.8" lengthAdjust="spacingAndGlyphs">SEGMEN...</text>
<rect x="535.25" y="388.1" width="2.95" height="12" fill="#fbd02b"/>
<rect x="538.95" y="386.3" width="2.95" height="13.8" fill="#149944"/>
<text x="538.44" y="377" font-size="4.1" fill="#2e2e2e" text-anchor="middle">313%</text>
<text x="538.44" y="383" font-size="3.9" fill="#2e2e2e" text-anchor="middle">87%</text>
<text transform="translate(537.7 424.9) rotate(-90)" x="0" y="1.32" font-size="3.7" fill="#262626" text-anchor="start" textLength="18.8" lengthAdjust="spacingAndGlyphs">SEGMEN...</text>
<rect x="549.18" y="388.1" width="2.95" height="12" fill="#fbd02b"/>
<rect x="552.88" y="386.3" width="2.95" height="13.8" fill="#149944"/>
<text x="552.25" y="377" font-size="4.1" fill="#2e2e2e" text-anchor="middle">33%</text>
<text x="552.25" y="383" font-size="3.9" fill="#2e2e2e" text-anchor="middle">36%</text>
<text transform="translate(551.3 424.9) rotate(-90)" x="0" y="1.32" font-size="3.7" fill="#262626" text-anchor="start" textLength="13.2" lengthAdjust="spacingAndGlyphs">(Blank)</text>
</svg>
<svg style="left:336.5px;top:213.5px" width="227.5" height="108.2" viewBox="336.5 213.5 227.5 108.2">
<rect x="347.45" y="274.7" width="3.1" height="23.5" fill="#fbd02b"/>
<text x="349" y="271" font-size="3.7" fill="#2e2e2e" text-anchor="middle">28</text>
<rect x="364.29" y="278.4" width="3.1" height="3" fill="#fbd02b"/>
<text x="365.84" y="275" font-size="4.1" fill="#2e2e2e" text-anchor="middle">9</text>
<rect x="374.16" y="278.4" width="3.1" height="3" fill="#fbd02b"/>
<text x="375.71" y="275" font-size="4.1" fill="#2e2e2e" text-anchor="middle">9</text>
<rect x="384.03" y="279" width="3.1" height="2.4" fill="#e0231c"/>
<text x="385.58" y="285" font-size="3.7" fill="#2e2e2e" text-anchor="middle">0</text>
<rect x="393.91" y="257.7" width="3.1" height="23.7" fill="#149944"/>
<text x="395.46" y="254" font-size="4.1" fill="#2e2e2e" text-anchor="middle">9</text>
<rect x="403.78" y="245.8" width="3.1" height="35.6" fill="#149944"/>
<text x="405.33" y="242" font-size="4.1" fill="#2e2e2e" text-anchor="middle">11</text>
<rect x="415.11" y="250.9" width="3.1" height="8.3" fill="#fbd02b"/>
<text x="416.66" y="247" font-size="4.1" fill="#2e2e2e" text-anchor="middle">9</text>
<rect x="424.58" y="253.2" width="3.1" height="0.9" fill="#e0231c"/>
<text x="426.13" y="260" font-size="4.1" fill="#2e2e2e" text-anchor="middle">-20</text>
<rect x="434.65" y="250.9" width="3.1" height="6.8" fill="#149944"/>
<text x="436.2" y="247" font-size="4.1" fill="#2e2e2e" text-anchor="middle">0</text>
<rect x="441.13" y="250.9" width="3.1" height="2.9" fill="#149944"/>
<text x="442.68" y="247" font-size="4.1" fill="#2e2e2e" text-anchor="middle">3</text>
<rect x="450.3" y="250.9" width="3.1" height="12.7" fill="#149944"/>
<text x="451.85" y="247" font-size="4.1" fill="#2e2e2e" text-anchor="middle">9</text>
<rect x="460.47" y="250.9" width="3.1" height="2.3" fill="#e0231c"/>
<text x="462.02" y="247" font-size="3.7" fill="#2e2e2e" text-anchor="middle">0</text>
<text x="467.85" y="244" font-size="4.1" fill="#2e2e2e" text-anchor="middle">0</text>
<text x="477.65" y="244" font-size="4.1" fill="#2e2e2e" text-anchor="middle">0</text>
<rect x="484.7" y="247.3" width="3.1" height="1.4" fill="#149944"/>
<text x="486.25" y="244" font-size="4.1" fill="#2e2e2e" text-anchor="middle">2</text>
<rect x="492.6" y="247.3" width="3.1" height="1.4" fill="#149944"/>
<text x="494.15" y="244" font-size="4.1" fill="#2e2e2e" text-anchor="middle">6</text>
<rect x="502.1" y="247.3" width="3.1" height="1.4" fill="#e0231c"/>
<text x="503.65" y="253" font-size="4.1" fill="#2e2e2e" text-anchor="middle">0</text>
<rect x="511.9" y="247.3" width="3.1" height="3" fill="#fbd02b"/>
<text x="513.45" y="244" font-size="4.1" fill="#2e2e2e" text-anchor="middle">4</text>
<rect x="521.6" y="247.3" width="3.1" height="1.4" fill="#e0231c"/>
<text x="523.15" y="244" font-size="4.1" fill="#2e2e2e" text-anchor="middle">4</text>
<rect x="532" y="247.3" width="3.1" height="3" fill="#149944"/>
<text x="533.55" y="244" font-size="4.1" fill="#2e2e2e" text-anchor="middle">4</text>
<rect x="541.8" y="247.3" width="3.1" height="3" fill="#149944"/>
<text x="543.35" y="244" font-size="4.1" fill="#2e2e2e" text-anchor="middle">4</text>
<rect x="552.4" y="248.1" width="3.1" height="50.1" fill="#fbd02b"/>
<text x="553.95" y="244" font-size="4.1" fill="#2e2e2e" text-anchor="middle">46</text>
<path d="M341 298.2 H558.6" stroke="#2a2a2a" stroke-width="0.6"/>
<path d="M361.9 298.2 V319.8 M371.74 298.2 V319.8 M381.58 298.2 V319.8 M391.42 298.2 V319.8 M401.26 298.2 V319.8 M411.1 298.2 V319.8 M420.94 298.2 V319.8 M430.78 298.2 V319.8 M440.62 298.2 V319.8 M450.46 298.2 V319.8 M460.3 298.2 V319.8 M470.14 298.2 V319.8 M479.98 298.2 V319.8 M489.82 298.2 V319.8 M499.66 298.2 V319.8 M509.5 298.2 V319.8 M519.34 298.2 V319.8 M529.18 298.2 V319.8 M539.02 298.2 V319.8 M548.86 298.2 V319.8" stroke="#4a4a4a" stroke-width="0.5" fill="none"/>
<text x="350.6" y="304" font-size="3.6" fill="#2a2a2a" text-anchor="middle">C</text>
<text x="350.6" y="309" font-size="3.6" fill="#2a2a2a" text-anchor="middle">Target</text>
<text x="366.82" y="304" font-size="3.6" fill="#2a2a2a" text-anchor="middle">SE</text>
<text x="376.66" y="304" font-size="3.6" fill="#2a2a2a" text-anchor="middle">SE</text>
<text x="386.5" y="304" font-size="3.6" fill="#2a2a2a" text-anchor="middle">SE</text>
<text x="396.34" y="304" font-size="3.6" fill="#2a2a2a" text-anchor="middle">SE</text>
<text x="406.18" y="304" font-size="3.6" fill="#2a2a2a" text-anchor="middle">SE</text>
<text x="416.02" y="304" font-size="3.6" fill="#2a2a2a" text-anchor="middle">SE</text>
<text x="425.86" y="304" font-size="3.6" fill="#2a2a2a" text-anchor="middle">SE</text>
<text x="435.7" y="304" font-size="3.6" fill="#2a2a2a" text-anchor="middle">SE</text>
<text x="445.54" y="304" font-size="3.6" fill="#2a2a2a" text-anchor="middle">SE</text>
<text x="455.38" y="304" font-size="3.6" fill="#2a2a2a" text-anchor="middle">SE</text>
<text x="465.22" y="304" font-size="3.6" fill="#2a2a2a" text-anchor="middle">SE</text>
<text x="475.06" y="304" font-size="3.6" fill="#2a2a2a" text-anchor="middle">SE</text>
<text x="484.9" y="304" font-size="3.6" fill="#2a2a2a" text-anchor="middle">SE</text>
<text x="494.74" y="304" font-size="3.6" fill="#2a2a2a" text-anchor="middle">SE</text>
<text x="504.58" y="304" font-size="3.6" fill="#2a2a2a" text-anchor="middle">SE</text>
<text x="514.42" y="304" font-size="3.6" fill="#2a2a2a" text-anchor="middle">SE</text>
<text x="524.26" y="304" font-size="3.6" fill="#2a2a2a" text-anchor="middle">SE</text>
<text x="534.1" y="304" font-size="3.6" fill="#2a2a2a" text-anchor="middle">SE</text>
<text x="543.94" y="304" font-size="3.6" fill="#2a2a2a" text-anchor="middle">SE</text>
<text x="553.9" y="304" font-size="3.6" fill="#2a2a2a" text-anchor="middle">C</text>
</svg>
<svg style="left:567px;top:111px" width="231" height="14" viewBox="567 111 231 14"><rect x="568.7" y="112.1" width="228.1" height="11.6" fill="#1b1b1b"/></svg>
<span class="t" style="left:574.9px;top:117px;font-size:5.7px;color:#f0f0f0;transform:scaleX(1.123);">BM</span>
<span class="t" style="left:629.3px;top:117px;font-size:5.7px;color:#f0f0f0;transform:scaleX(1.136);">Actual</span>
<span class="t" style="left:673.9px;top:117px;font-size:5.7px;color:#f0f0f0;transform:scaleX(1.117);">Target</span>
<span class="t" style="left:717.8px;top:117px;font-size:5.7px;color:#f0f0f0;transform:scaleX(1.021);">Ach%</span>
<span class="t" style="left:759px;top:117px;font-size:5.7px;color:#f0f0f0;transform:scaleX(1.017);">Score/10</span>
<svg style="left:567px;top:122px" width="231" height="15" viewBox="567 122 231 15"><rect x="568.7" y="123.7" width="228.1" height="12.2" fill="#ffffff"/></svg>
<svg style="left:758px;top:122px" width="26" height="15" viewBox="758 122 26 15"><rect x="759" y="123.5" width="23.3" height="11.7" fill="#fd7a08"/></svg>
<span class="t" style="left:574.9px;top:129px;font-size:3.8px;color:#555555;transform:scaleX(1.036);">BM-01</span>
<span class="t" style="left:629.3px;top:129px;font-size:3.8px;color:#555555;transform:scaleX(0.973);">5661552</span>
<span class="t" style="left:673.9px;top:129px;font-size:3.8px;color:#555555;transform:scaleX(1.014);">6578954</span>
<span class="t" style="left:717.8px;top:129px;font-size:3.8px;color:#555555;">53%</span>
<span class="t" style="left:767.89px;top:128px;font-size:3.9px;color:#1c1c1c;font-weight:700;">2.8</span>
<svg style="left:567px;top:134px" width="231" height="16" viewBox="567 134 231 16"><rect x="568.7" y="135.9" width="228.1" height="12.2" fill="#f7f7f7"/></svg>
<svg style="left:758px;top:134px" width="26" height="15" viewBox="758 134 26 15"><rect x="759" y="135.7" width="23.3" height="11.7" fill="#fd7a08"/></svg>
<span class="t" style="left:574.9px;top:141px;font-size:3.8px;color:#555555;transform:scaleX(1.108);">BM-04</span>
<span class="t" style="left:629.3px;top:141px;font-size:3.8px;color:#555555;transform:scaleX(0.973);">5661552</span>
<span class="t" style="left:673.9px;top:141px;font-size:3.8px;color:#555555;transform:scaleX(1.014);">6578954</span>
<span class="t" style="left:717.8px;top:141px;font-size:3.8px;color:#555555;">53%</span>
<span class="t" style="left:767.96px;top:141px;font-size:3.8px;color:#1c1c1c;font-weight:700;">2.8</span>
<svg style="left:567px;top:225px" width="231" height="14" viewBox="567 225 231 14"><rect x="568.7" y="226.1" width="228.1" height="11.6" fill="#1b1b1b"/></svg>
<span class="t" style="left:574.9px;top:231px;font-size:5.7px;color:#f0f0f0;transform:scaleX(1.123);">BM</span>
<span class="t" style="left:629.3px;top:231px;font-size:5.7px;color:#f0f0f0;transform:scaleX(1.136);">Actual</span>
<span class="t" style="left:673.9px;top:231px;font-size:5.7px;color:#f0f0f0;transform:scaleX(1.117);">Target</span>
<span class="t" style="left:717.8px;top:231px;font-size:5.7px;color:#f0f0f0;transform:scaleX(1.021);">Ach%</span>
<span class="t" style="left:759px;top:231px;font-size:5.7px;color:#f0f0f0;transform:scaleX(1.017);">Score/10</span>
<svg style="left:567px;top:236px" width="231" height="15" viewBox="567 236 231 15"><rect x="568.7" y="237.7" width="228.1" height="12.2" fill="#ffffff"/></svg>
<svg style="left:758px;top:236px" width="26" height="15" viewBox="758 236 26 15"><rect x="759" y="237.5" width="23.3" height="11.7" fill="#a4fdcb"/></svg>
<span class="t" style="left:574.9px;top:243px;font-size:3.8px;color:#555555;transform:scaleX(1.036);">BM-01</span>
<span class="t" style="left:629.3px;top:243px;font-size:3.8px;color:#555555;transform:scaleX(0.973);">5661552</span>
<span class="t" style="left:673.9px;top:243px;font-size:3.8px;color:#555555;transform:scaleX(1.014);">6578954</span>
<span class="t" style="left:717.8px;top:243px;font-size:3.8px;color:#555555;">53%</span>
<span class="t" style="left:767.89px;top:242px;font-size:3.9px;color:#1c1c1c;font-weight:700;">2.8</span>
<svg style="left:567px;top:248px" width="231" height="16" viewBox="567 248 231 16"><rect x="568.7" y="249.9" width="228.1" height="12.2" fill="#f7f7f7"/></svg>
<svg style="left:758px;top:248px" width="26" height="15" viewBox="758 248 26 15"><rect x="759" y="249.7" width="23.3" height="11.7" fill="#a4fdcb"/></svg>
<span class="t" style="left:574.9px;top:255px;font-size:3.8px;color:#555555;transform:scaleX(1.108);">BM-04</span>
<span class="t" style="left:629.3px;top:255px;font-size:3.8px;color:#555555;transform:scaleX(0.973);">5661552</span>
<span class="t" style="left:673.9px;top:255px;font-size:3.8px;color:#555555;transform:scaleX(1.014);">6578954</span>
<span class="t" style="left:717.8px;top:255px;font-size:3.8px;color:#555555;">53%</span>
<span class="t" style="left:767.96px;top:255px;font-size:3.8px;color:#1c1c1c;font-weight:700;">2.8</span>
<svg style="left:567px;top:339px" width="231" height="15" viewBox="567 339 231 15"><rect x="568.7" y="340.6" width="228.1" height="11.6" fill="#1b1b1b"/></svg>
<span class="t" style="left:574.9px;top:345px;font-size:5.3px;color:#f0f0f0;transform:scaleX(1.207);">BM</span>
<span class="t" style="left:629.3px;top:345px;font-size:5.3px;color:#f0f0f0;transform:scaleX(1.222);">Actual</span>
<span class="t" style="left:673.9px;top:345px;font-size:5.3px;color:#f0f0f0;transform:scaleX(1.202);">Target</span>
<span class="t" style="left:717.8px;top:345px;font-size:5.3px;color:#f0f0f0;transform:scaleX(1.210);">Diff%</span>
<span class="t" style="left:759px;top:345px;font-size:5.3px;color:#f0f0f0;transform:scaleX(1.094);">Score/10</span>
<svg style="left:567px;top:351px" width="231" height="15" viewBox="567 351 231 15"><rect x="568.7" y="352.2" width="228.1" height="12.2" fill="#ffffff"/></svg>
<svg style="left:758px;top:351px" width="26" height="14" viewBox="758 351 26 14"><rect x="759" y="352" width="23.3" height="11.7" fill="#fdd31c"/></svg>
<span class="t" style="left:574.9px;top:357px;font-size:3.9px;color:#555555;transform:scaleX(1.010);">BM-01</span>
<span class="t" style="left:629.3px;top:357px;font-size:3.9px;color:#555555;">36%</span>
<span class="t" style="left:673.9px;top:357px;font-size:3.9px;color:#555555;">39%</span>
<span class="t" style="left:717.8px;top:357px;font-size:3.9px;color:#555555;">-3%</span>
<span class="t" style="left:767.96px;top:357px;font-size:3.8px;color:#1c1c1c;font-weight:700;">2.8</span>
<svg style="left:567px;top:363px" width="231" height="15" viewBox="567 363 231 15"><rect x="568.7" y="364.4" width="228.1" height="12.2" fill="#f7f7f7"/></svg>
<svg style="left:758px;top:363px" width="26" height="14" viewBox="758 363 26 14"><rect x="759" y="364.2" width="23.3" height="11.7" fill="#a4fdcb"/></svg>
<span class="t" style="left:574.9px;top:369px;font-size:3.9px;color:#555555;transform:scaleX(1.079);">BM-04</span>
<span class="t" style="left:629.3px;top:369px;font-size:3.9px;color:#555555;">47%</span>
<span class="t" style="left:673.9px;top:369px;font-size:3.9px;color:#555555;">45%</span>
<span class="t" style="left:717.8px;top:369px;font-size:3.9px;color:#555555;">1%</span>
<span class="t" style="left:767.89px;top:369px;font-size:3.9px;color:#1c1c1c;font-weight:700;">2.8</span>
</div></body></html>
